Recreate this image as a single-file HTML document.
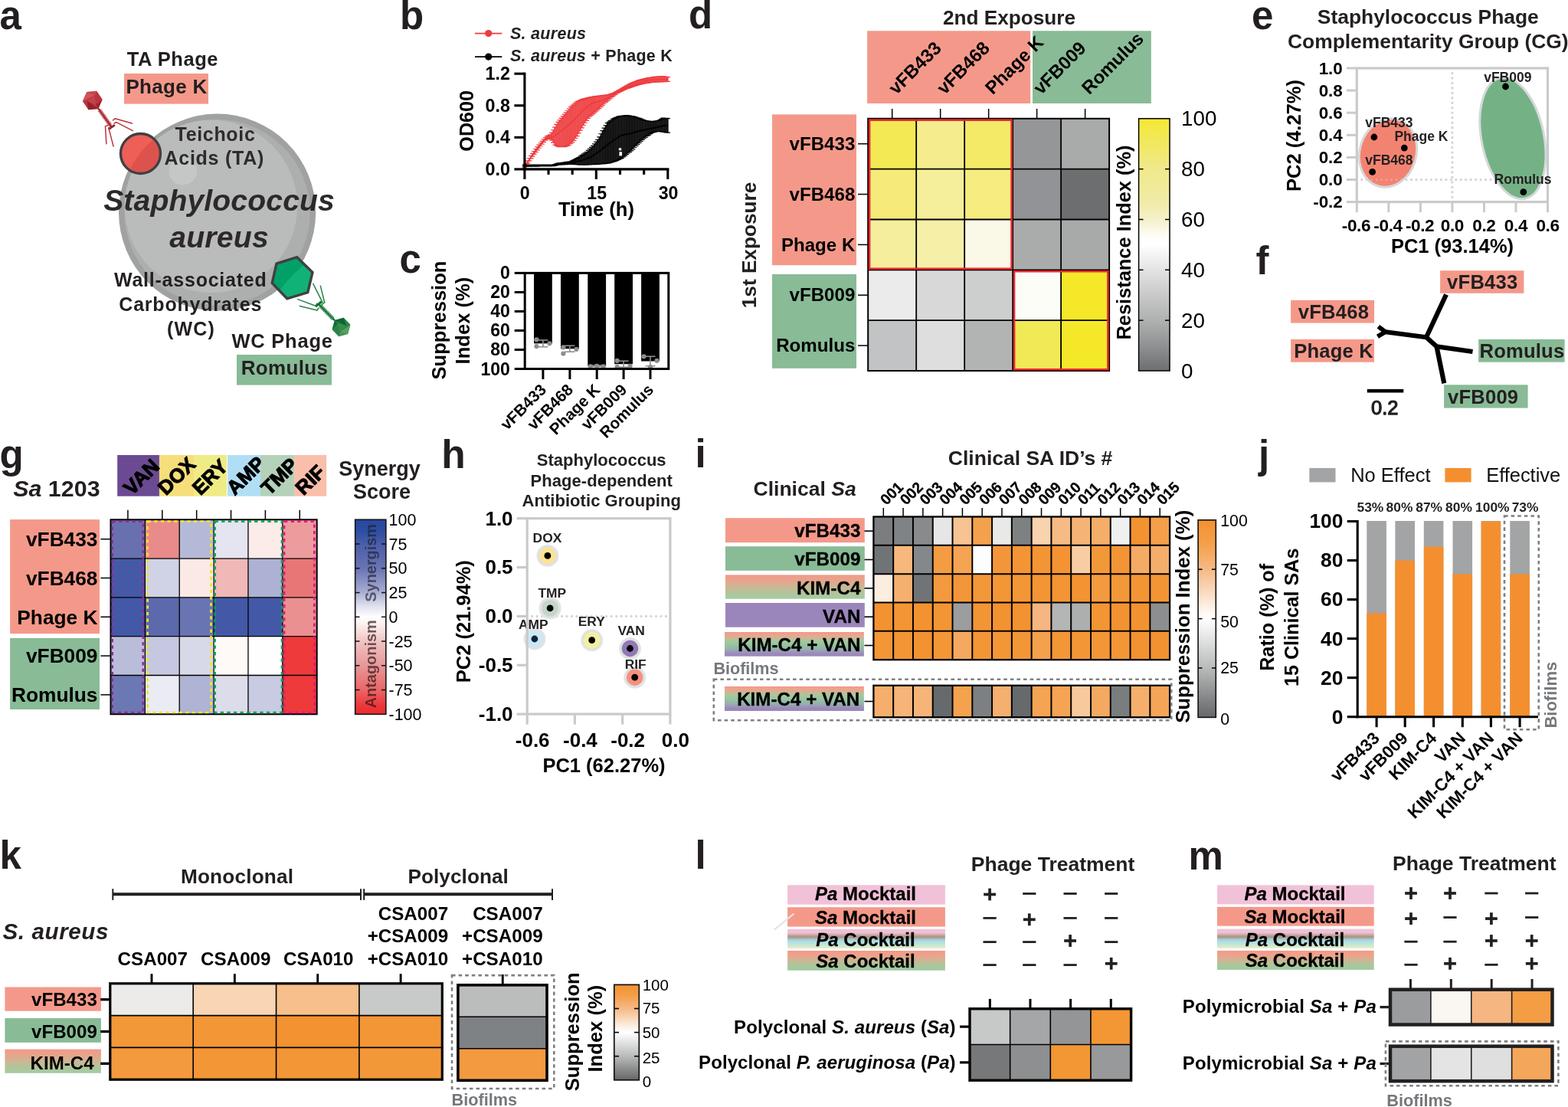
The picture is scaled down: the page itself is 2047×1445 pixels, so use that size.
<!DOCTYPE html>
<html lang="en">
<head>
<meta charset="utf-8">
<title>Staphylococcus aureus phage complementarity figure</title>
<style>
html,body{margin:0;padding:0;background:#fff;}
body{width:2047px;height:1445px;overflow:hidden;}
svg{display:block;font-family:'Liberation Sans', Arial, Helvetica, sans-serif;}
</style>
</head>
<body>
<svg width="2047" height="1445" viewBox="0 0 2047 1445">
<defs>
<clipPath id="redclip"><circle cx="183.5" cy="200.5" r="26"/></clipPath>
<clipPath id="hexclip"><polygon points="387.7,335.7 408.0,355.5 401.8,381.6 374.8,389.8 355.2,369.5 361,344.2"/></clipPath>
<linearGradient id="gd" x1="0" y1="0" x2="0" y2="1"><stop offset="0" stop-color="#f4e932"/><stop offset="0.08" stop-color="#f2e858"/><stop offset="0.2" stop-color="#f0e98c"/><stop offset="0.33" stop-color="#f0eba6"/><stop offset="0.41" stop-color="#f5f1d0"/><stop offset="0.46" stop-color="#fdfcf4"/><stop offset="0.5" stop-color="#ffffff"/><stop offset="0.6" stop-color="#e3e3e3"/><stop offset="0.7" stop-color="#c9c9c9"/><stop offset="0.8" stop-color="#afb0b0"/><stop offset="0.9" stop-color="#909192"/><stop offset="1" stop-color="#6d6e70"/></linearGradient>
<linearGradient id="gg" x1="0" y1="0" x2="0" y2="1"><stop offset="0" stop-color="#26489e"/><stop offset="0.06" stop-color="#2d4ea1"/><stop offset="0.125" stop-color="#4a5ea9"/><stop offset="0.25" stop-color="#6a74b3"/><stop offset="0.375" stop-color="#a9aed2"/><stop offset="0.44" stop-color="#dcdeec"/><stop offset="0.5" stop-color="#ffffff"/><stop offset="0.56" stop-color="#f9e6e4"/><stop offset="0.625" stop-color="#f0c4c2"/><stop offset="0.75" stop-color="#e79899"/><stop offset="0.875" stop-color="#ea6667"/><stop offset="0.95" stop-color="#ec3a3d"/><stop offset="1" stop-color="#ed2a2d"/></linearGradient>
<radialGradient id="halo" cx="0.5" cy="0.5" r="0.5"><stop offset="0" stop-color="#dcdddd"/><stop offset="0.86" stop-color="#e0e1e1"/><stop offset="1" stop-color="#e9eaea"/></radialGradient>
<linearGradient id="g_kim" x1="0" y1="0" x2="0" y2="1"><stop offset="0" stop-color="#f39a88"/><stop offset="0.3" stop-color="#e2a78d"/><stop offset="0.5" stop-color="#cbb794"/><stop offset="0.75" stop-color="#b3c49b"/><stop offset="1" stop-color="#a2cda2"/></linearGradient>
<linearGradient id="g_kv" x1="0" y1="0" x2="0" y2="1"><stop offset="0" stop-color="#f2998a"/><stop offset="0.14" stop-color="#eba68f"/><stop offset="0.36" stop-color="#a9c79d"/><stop offset="0.52" stop-color="#93c7a0"/><stop offset="0.7" stop-color="#98b0ae"/><stop offset="0.88" stop-color="#9c8abb"/><stop offset="1" stop-color="#9a86bb"/></linearGradient>
<linearGradient id="g_or" x1="0" y1="0" x2="0" y2="1"><stop offset="0" stop-color="#f39230"/><stop offset="0.12" stop-color="#f4a04a"/><stop offset="0.25" stop-color="#f6b985"/><stop offset="0.36" stop-color="#f9d9bd"/><stop offset="0.45" stop-color="#fdf3ea"/><stop offset="0.5" stop-color="#ffffff"/><stop offset="0.56" stop-color="#efefef"/><stop offset="0.66" stop-color="#d2d3d3"/><stop offset="0.75" stop-color="#b9baba"/><stop offset="0.88" stop-color="#8d8e8f"/><stop offset="1" stop-color="#666769"/></linearGradient>
<linearGradient id="g_kim2" x1="0" y1="0" x2="0" y2="1"><stop offset="0" stop-color="#f39a88"/><stop offset="0.3" stop-color="#e2a78d"/><stop offset="0.5" stop-color="#cbb794"/><stop offset="0.75" stop-color="#b3c49b"/><stop offset="1" stop-color="#a2cda2"/></linearGradient>
<linearGradient id="g_or2" x1="0" y1="0" x2="0" y2="1"><stop offset="0" stop-color="#f39230"/><stop offset="0.12" stop-color="#f4a04a"/><stop offset="0.25" stop-color="#f6b985"/><stop offset="0.36" stop-color="#f9d9bd"/><stop offset="0.45" stop-color="#fdf3ea"/><stop offset="0.5" stop-color="#ffffff"/><stop offset="0.56" stop-color="#efefef"/><stop offset="0.66" stop-color="#d2d3d3"/><stop offset="0.75" stop-color="#b9baba"/><stop offset="0.88" stop-color="#8d8e8f"/><stop offset="1" stop-color="#666769"/></linearGradient>
<linearGradient id="g_pac" x1="0" y1="0" x2="0" y2="1"><stop offset="0" stop-color="#f1c1d8"/><stop offset="0.2" stop-color="#eec0d4"/><stop offset="0.34" stop-color="#bfa196"/><stop offset="0.42" stop-color="#a89383"/><stop offset="0.52" stop-color="#a9c3c4"/><stop offset="0.62" stop-color="#a9dde6"/><stop offset="0.78" stop-color="#bfe3dc"/><stop offset="0.9" stop-color="#d6e9c8"/><stop offset="1" stop-color="#dcebc6"/></linearGradient>
<linearGradient id="g_sac" x1="0" y1="0" x2="0" y2="1"><stop offset="0" stop-color="#f39a88"/><stop offset="0.25" stop-color="#eea28c"/><stop offset="0.5" stop-color="#cbb794"/><stop offset="0.78" stop-color="#a9c79d"/><stop offset="1" stop-color="#9bcb9f"/></linearGradient>
</defs>
<rect x="0" y="0" width="2047" height="1445" fill="#fff"/>
<text x="-0.50" y="37.60" font-size="51" font-weight="bold" fill="#231f20">a</text>
<text x="225.39" y="86.00" font-size="25.5" font-weight="bold" text-anchor="middle" fill="#231f20" letter-spacing="0.576">TA Phage</text>
<rect x="162.00" y="96.00" width="110.00" height="39.60" fill="#f4998a"/>
<text x="217.56" y="121.50" font-size="26" font-weight="bold" text-anchor="middle" fill="#231f20" letter-spacing="0.329">Phage K</text>
<circle cx="283.60" cy="277.20" r="128.60" fill="#a0a2a2"/>
<circle cx="283.60" cy="277.20" r="121.20" fill="#adafaf"/>
<circle cx="275.40" cy="269.30" r="112.80" fill="#babbbb"/>
<ellipse cx="238.8" cy="223.3" rx="18.4" ry="18.2" fill="#c7c9c8" opacity="0.85"/>
<circle cx="183.50" cy="200.50" r="26.00" fill="#ee5f58"/>
<path d="M166 229 Q180 196 208 176 L216 190 L200 232 Z" fill="#de524d" clip-path="url(#redclip)"/>
<circle cx="183.50" cy="200.50" r="26.00" fill="none" stroke="#414042" stroke-width="3.4"/>
<polygon points="387.7,335.7 408.0,355.5 401.8,381.6 374.8,389.8 355.2,369.5 361,344.2" fill="#10b375"/>
<path d="M363 382 Q380 358 404 340 L388 330 L350 340 L350 372 Z" fill="#00a168" clip-path="url(#hexclip)"/>
<polygon points="387.7,335.7 408.0,355.5 401.8,381.6 374.8,389.8 355.2,369.5 361,344.2" fill="none" stroke="#414042" stroke-width="3.4" stroke-linejoin="miter"/>
<text x="281.04" y="183.50" font-size="25" font-weight="bold" text-anchor="middle" fill="#2e2b2c" letter-spacing="0.677">Teichoic</text>
<text x="279.77" y="214.50" font-size="25" font-weight="bold" text-anchor="middle" fill="#2e2b2c" letter-spacing="0.739">Acids (TA)</text>
<text x="286.04" y="274.50" font-size="39.2" font-weight="bold" text-anchor="middle" fill="#2c292a" font-style="italic" letter-spacing="0.090">Staphylococcus</text>
<text x="286.09" y="322.50" font-size="39.2" font-weight="bold" text-anchor="middle" fill="#2c292a" font-style="italic" letter-spacing="0.190">aureus</text>
<text x="248.78" y="374.30" font-size="25" font-weight="bold" text-anchor="middle" fill="#231f20" letter-spacing="0.769">Wall-associated</text>
<text x="248.70" y="406.20" font-size="25" font-weight="bold" text-anchor="middle" fill="#231f20" letter-spacing="0.796">Carbohydrates</text>
<text x="249.48" y="438.40" font-size="25" font-weight="bold" text-anchor="middle" fill="#231f20" letter-spacing="1.166">(WC)</text>
<text x="368.59" y="454.30" font-size="25.5" font-weight="bold" text-anchor="middle" fill="#231f20" letter-spacing="0.786">WC Phage</text>
<rect x="309.00" y="463.00" width="124.00" height="39.60" fill="#88bb96"/>
<text x="371.46" y="488.50" font-size="26" font-weight="bold" text-anchor="middle" fill="#231f20" letter-spacing="0.329">Romulus</text>
<polygon points="128.3,142.0 115.4,143.3 107.9,132.3 113.3,120.0 126.2,118.7 133.7,129.7" fill="#b9353f"/>
<polygon points="128.3,142.0 115.4,143.3 113.7,131.7" fill="#93212c"/>
<polygon points="133.7,129.7 128.3,142.0 125.0,136.8" fill="#93212c" opacity="0.8"/>
<polygon points="107.9,132.3 113.3,120.0 123.8,124.5" fill="#cf545c"/>
<polygon points="113.3,120.0 126.2,118.7 123.8,124.5" fill="#cf545c" opacity="0.6"/>
<polygon points="113.7,131.7 123.8,124.5 125.0,136.8" fill="#c2434c"/>
<line x1="128.35" y1="141.58" x2="145.77" y2="166.01" stroke="#93212c" stroke-width="2.4"/>
<line x1="130.09" y1="144.03" x2="144.03" y2="163.56" stroke="#b9353f" stroke-width="5.2" stroke-dasharray="1.3 0.8"/>
<line x1="149.84" y1="163.10" x2="141.70" y2="168.91" stroke="#93212c" stroke-width="2.6"/>
<line x1="147.50" y1="157.00" x2="150.10" y2="154.70" stroke="#b9353f" stroke-width="1.5" stroke-linecap="round"/>
<line x1="150.10" y1="154.70" x2="172.40" y2="161.00" stroke="#b9353f" stroke-width="1.5" stroke-linecap="round"/>
<line x1="149.00" y1="161.00" x2="152.00" y2="159.60" stroke="#b9353f" stroke-width="1.5" stroke-linecap="round"/>
<line x1="152.00" y1="159.60" x2="173.30" y2="170.70" stroke="#b9353f" stroke-width="1.5" stroke-linecap="round"/>
<line x1="141.00" y1="163.50" x2="137.50" y2="164.90" stroke="#b9353f" stroke-width="1.5" stroke-linecap="round"/>
<line x1="137.50" y1="164.90" x2="138.90" y2="187.70" stroke="#b9353f" stroke-width="1.5" stroke-linecap="round"/>
<line x1="144.00" y1="166.00" x2="141.80" y2="166.90" stroke="#b9353f" stroke-width="1.5" stroke-linecap="round"/>
<line x1="141.80" y1="166.90" x2="148.10" y2="191.10" stroke="#b9353f" stroke-width="1.5" stroke-linecap="round"/>
<polygon points="436.9,417.9 448.8,414.7 457.4,423.8 454.1,436.1 442.2,439.3 433.6,430.2" fill="#2b8346"/>
<polygon points="436.9,417.9 448.8,414.7 452.0,425.3" fill="#0c6631"/>
<polygon points="433.6,430.2 436.9,417.9 440.8,422.2" fill="#0c6631" opacity="0.8"/>
<polygon points="457.4,423.8 454.1,436.1 443.7,433.5" fill="#57a25f"/>
<polygon points="454.1,436.1 442.2,439.3 443.7,433.5" fill="#57a25f" opacity="0.6"/>
<polygon points="452.0,425.3 443.7,433.5 440.8,422.2" fill="#3a8e4b"/>
<line x1="436.88" y1="418.23" x2="415.85" y2="396.83" stroke="#0c6631" stroke-width="2.4"/>
<line x1="434.78" y1="416.09" x2="417.95" y2="398.97" stroke="#2b8346" stroke-width="5.2" stroke-dasharray="1.3 0.8"/>
<line x1="412.29" y1="400.33" x2="419.42" y2="393.32" stroke="#0c6631" stroke-width="2.6"/>
<line x1="417.00" y1="397.00" x2="421.00" y2="394.70" stroke="#2b8346" stroke-width="1.5" stroke-linecap="round"/>
<line x1="421.00" y1="394.70" x2="408.80" y2="370.40" stroke="#2b8346" stroke-width="1.5" stroke-linecap="round"/>
<line x1="420.00" y1="398.00" x2="423.70" y2="394.70" stroke="#2b8346" stroke-width="1.5" stroke-linecap="round"/>
<line x1="423.70" y1="394.70" x2="418.30" y2="373.10" stroke="#2b8346" stroke-width="1.5" stroke-linecap="round"/>
<line x1="414.00" y1="396.00" x2="412.00" y2="399.20" stroke="#2b8346" stroke-width="1.5" stroke-linecap="round"/>
<line x1="412.00" y1="399.20" x2="388.60" y2="390.60" stroke="#2b8346" stroke-width="1.5" stroke-linecap="round"/>
<line x1="416.00" y1="402.00" x2="413.80" y2="405.00" stroke="#2b8346" stroke-width="1.5" stroke-linecap="round"/>
<line x1="413.80" y1="405.00" x2="391.30" y2="399.60" stroke="#2b8346" stroke-width="1.5" stroke-linecap="round"/>
<text x="522.00" y="38.30" font-size="51" font-weight="bold" fill="#231f20">b</text>
<line x1="620.00" y1="43.60" x2="655.30" y2="43.60" stroke="#ee3b3e" stroke-width="1.6"/>
<circle cx="637.70" cy="43.60" r="4.60" fill="#ee3b3e"/>
<text x="666.00" y="50.60" font-size="21.5" font-weight="bold" fill="#231f20" font-style="italic" letter-spacing="0.276">S. aureus</text>
<line x1="620.00" y1="74.10" x2="655.30" y2="74.10" stroke="#000" stroke-width="1.6"/>
<circle cx="637.70" cy="74.10" r="4.60" fill="#000"/>
<text x="666.00" y="80.10" font-size="21.5" font-weight="bold" fill="#231f20" letter-spacing="0.249"><tspan font-style="italic">S. aureus</tspan> + Phage K</text>
<polygon points="684.90,216.74 686.98,213.40 689.05,210.06 691.13,206.72 693.21,203.38 695.28,200.42 697.36,197.55 699.44,194.69 701.51,191.82 703.59,189.16 705.67,186.74 707.74,184.33 709.82,181.92 711.90,179.50 713.97,177.86 716.05,177.00 718.13,175.96 720.20,173.36 722.28,169.75 724.36,166.04 726.43,162.32 728.51,159.34 730.59,156.85 732.66,154.35 734.74,151.86 736.82,149.37 738.89,146.95 740.97,144.52 743.05,142.10 745.12,139.67 747.20,137.87 749.28,136.14 751.35,134.41 753.43,132.67 755.51,131.75 757.58,130.83 759.66,129.90 761.74,129.14 763.81,128.62 765.89,128.10 767.97,127.58 770.04,127.06 772.12,126.54 774.20,126.24 776.27,125.93 778.35,125.62 780.43,125.31 782.50,125.00 784.58,124.75 786.66,124.54 788.73,124.33 790.81,124.12 792.89,123.91 794.96,123.60 797.04,122.91 799.12,122.21 801.19,121.52 803.27,120.42 805.35,119.27 807.42,118.12 809.50,116.98 811.58,115.82 813.65,114.62 815.73,113.42 817.81,112.21 819.88,111.01 821.96,109.81 824.04,108.75 826.11,107.93 828.19,107.10 830.27,106.27 832.34,105.44 834.42,104.62 836.50,104.10 838.57,103.58 840.65,103.06 842.73,102.54 844.80,102.02 846.88,101.63 848.96,101.32 851.03,101.01 853.11,100.70 855.19,100.40 857.26,100.11 859.34,99.94 861.42,99.77 863.49,99.59 865.57,99.72 867.65,100.03 869.72,100.35 871.80,100.67 871.80,106.28 869.72,106.42 867.65,106.56 865.57,106.70 863.49,106.83 861.42,106.95 859.34,107.05 857.26,107.14 855.19,107.24 853.11,107.34 851.03,107.45 848.96,107.76 846.88,108.07 844.80,108.38 842.73,108.69 840.65,108.99 838.57,109.45 836.50,109.97 834.42,110.49 832.34,111.01 830.27,111.53 828.19,112.11 826.11,112.84 824.04,113.57 821.96,114.30 819.88,115.04 817.81,115.77 815.73,116.73 813.65,117.71 811.58,118.70 809.50,119.68 807.42,120.66 805.35,121.76 803.27,123.32 801.19,124.88 799.12,126.44 797.04,128.10 794.96,129.83 792.89,131.57 790.81,133.30 788.73,135.25 786.66,137.30 784.58,139.34 782.50,141.32 780.43,143.20 778.35,145.08 776.27,146.95 774.20,148.69 772.12,150.39 770.04,152.09 767.97,154.40 765.89,157.33 763.81,160.25 761.74,163.48 759.66,166.79 757.58,170.15 755.51,173.91 753.43,177.67 751.35,180.49 749.28,183.30 747.20,185.53 745.12,187.38 743.05,189.23 740.97,190.10 738.89,190.86 736.82,191.62 734.74,191.70 732.66,191.70 730.59,191.70 728.51,191.08 726.43,190.04 724.36,189.00 722.28,186.09 720.20,183.08 718.13,181.09 716.05,181.28 713.97,181.71 711.90,183.19 709.82,185.71 707.74,188.23 705.67,190.75 703.59,193.27 701.51,195.91 699.44,198.66 697.36,201.41 695.28,204.15 693.21,206.95 691.13,209.91 689.05,212.88 686.98,215.85 684.90,218.82" fill="#ee3b3e" opacity="0.62"/>
<path d="M684.90 216.74V218.82M686.98 213.40V215.85M689.05 210.06V212.88M691.13 206.72V209.91M693.21 203.38V206.95M695.28 200.42V204.15M697.36 197.55V201.41M699.44 194.69V198.66M701.51 191.82V195.91M703.59 189.16V193.27M705.67 186.74V190.75M707.74 184.33V188.23M709.82 181.92V185.71M711.90 179.50V183.19M713.97 177.86V181.71M716.05 177.00V181.28M718.13 175.96V181.09M720.20 173.36V183.08M722.28 169.75V186.09M724.36 166.04V189.00M726.43 162.32V190.04M728.51 159.34V191.08M730.59 156.85V191.70M732.66 154.35V191.70M734.74 151.86V191.70M736.82 149.37V191.62M738.89 146.95V190.86M740.97 144.52V190.10M743.05 142.10V189.23M745.12 139.67V187.38M747.20 137.87V185.53M749.28 136.14V183.30M751.35 134.41V180.49M753.43 132.67V177.67M755.51 131.75V173.91M757.58 130.83V170.15M759.66 129.90V166.79M761.74 129.14V163.48M763.81 128.62V160.25M765.89 128.10V157.33M767.97 127.58V154.40M770.04 127.06V152.09M772.12 126.54V150.39M774.20 126.24V148.69M776.27 125.93V146.95M778.35 125.62V145.08M780.43 125.31V143.20M782.50 125.00V141.32M784.58 124.75V139.34M786.66 124.54V137.30M788.73 124.33V135.25M790.81 124.12V133.30M792.89 123.91V131.57M794.96 123.60V129.83M797.04 122.91V128.10M799.12 122.21V126.44M801.19 121.52V124.88M803.27 120.42V123.32M805.35 119.27V121.76M807.42 118.12V120.66M809.50 116.98V119.68M811.58 115.82V118.70M813.65 114.62V117.71M815.73 113.42V116.73M817.81 112.21V115.77M819.88 111.01V115.04M821.96 109.81V114.30M824.04 108.75V113.57M826.11 107.93V112.84M828.19 107.10V112.11M830.27 106.27V111.53M832.34 105.44V111.01M834.42 104.62V110.49M836.50 104.10V109.97M838.57 103.58V109.45M840.65 103.06V108.99M842.73 102.54V108.69M844.80 102.02V108.38M846.88 101.63V108.07M848.96 101.32V107.76M851.03 101.01V107.45M853.11 100.70V107.34M855.19 100.40V107.24M857.26 100.11V107.14M859.34 99.94V107.05M861.42 99.77V106.95M863.49 99.59V106.83M865.57 99.72V106.70M867.65 100.03V106.56M869.72 100.35V106.42M871.80 100.67V106.28" fill="none" stroke="#ee3b3e" stroke-width="1.55"/>
<path d="M681.70 216.74h6.4M681.70 218.82h6.4M683.78 213.40h6.4M683.78 215.85h6.4M685.85 210.06h6.4M685.85 212.88h6.4M687.93 206.72h6.4M687.93 209.91h6.4M690.01 203.38h6.4M690.01 206.95h6.4M692.08 200.42h6.4M692.08 204.15h6.4M694.16 197.55h6.4M694.16 201.41h6.4M696.24 194.69h6.4M696.24 198.66h6.4M698.31 191.82h6.4M698.31 195.91h6.4M700.39 189.16h6.4M700.39 193.27h6.4M702.47 186.74h6.4M702.47 190.75h6.4M704.54 184.33h6.4M704.54 188.23h6.4M706.62 181.92h6.4M706.62 185.71h6.4M708.70 179.50h6.4M708.70 183.19h6.4M710.77 177.86h6.4M710.77 181.71h6.4M712.85 177.00h6.4M712.85 181.28h6.4M714.93 175.96h6.4M714.93 181.09h6.4M717.00 173.36h6.4M717.00 183.08h6.4M719.08 169.75h6.4M719.08 186.09h6.4M721.16 166.04h6.4M721.16 189.00h6.4M723.23 162.32h6.4M723.23 190.04h6.4M725.31 159.34h6.4M725.31 191.08h6.4M727.39 156.85h6.4M727.39 191.70h6.4M729.46 154.35h6.4M729.46 191.70h6.4M731.54 151.86h6.4M731.54 191.70h6.4M733.62 149.37h6.4M733.62 191.62h6.4M735.69 146.95h6.4M735.69 190.86h6.4M737.77 144.52h6.4M737.77 190.10h6.4M739.85 142.10h6.4M739.85 189.23h6.4M741.92 139.67h6.4M741.92 187.38h6.4M744.00 137.87h6.4M744.00 185.53h6.4M746.08 136.14h6.4M746.08 183.30h6.4M748.15 134.41h6.4M748.15 180.49h6.4M750.23 132.67h6.4M750.23 177.67h6.4M752.31 131.75h6.4M752.31 173.91h6.4M754.38 130.83h6.4M754.38 170.15h6.4M756.46 129.90h6.4M756.46 166.79h6.4M758.54 129.14h6.4M758.54 163.48h6.4M760.61 128.62h6.4M760.61 160.25h6.4M762.69 128.10h6.4M762.69 157.33h6.4M764.77 127.58h6.4M764.77 154.40h6.4M766.84 127.06h6.4M766.84 152.09h6.4M768.92 126.54h6.4M768.92 150.39h6.4M771.00 126.24h6.4M771.00 148.69h6.4M773.07 125.93h6.4M773.07 146.95h6.4M775.15 125.62h6.4M775.15 145.08h6.4M777.23 125.31h6.4M777.23 143.20h6.4M779.30 125.00h6.4M779.30 141.32h6.4M781.38 124.75h6.4M781.38 139.34h6.4M783.46 124.54h6.4M783.46 137.30h6.4M785.53 124.33h6.4M785.53 135.25h6.4M787.61 124.12h6.4M787.61 133.30h6.4M789.69 123.91h6.4M789.69 131.57h6.4M791.76 123.60h6.4M791.76 129.83h6.4M793.84 122.91h6.4M793.84 128.10h6.4M795.92 122.21h6.4M795.92 126.44h6.4M797.99 121.52h6.4M797.99 124.88h6.4M800.07 120.42h6.4M800.07 123.32h6.4M802.15 119.27h6.4M802.15 121.76h6.4M804.22 118.12h6.4M804.22 120.66h6.4M806.30 116.98h6.4M806.30 119.68h6.4M808.38 115.82h6.4M808.38 118.70h6.4M810.45 114.62h6.4M810.45 117.71h6.4M812.53 113.42h6.4M812.53 116.73h6.4M814.61 112.21h6.4M814.61 115.77h6.4M816.68 111.01h6.4M816.68 115.04h6.4M818.76 109.81h6.4M818.76 114.30h6.4M820.84 108.75h6.4M820.84 113.57h6.4M822.91 107.93h6.4M822.91 112.84h6.4M824.99 107.10h6.4M824.99 112.11h6.4M827.07 106.27h6.4M827.07 111.53h6.4M829.14 105.44h6.4M829.14 111.01h6.4M831.22 104.62h6.4M831.22 110.49h6.4M833.30 104.10h6.4M833.30 109.97h6.4M835.37 103.58h6.4M835.37 109.45h6.4M837.45 103.06h6.4M837.45 108.99h6.4M839.53 102.54h6.4M839.53 108.69h6.4M841.60 102.02h6.4M841.60 108.38h6.4M843.68 101.63h6.4M843.68 108.07h6.4M845.76 101.32h6.4M845.76 107.76h6.4M847.83 101.01h6.4M847.83 107.45h6.4M849.91 100.70h6.4M849.91 107.34h6.4M851.99 100.40h6.4M851.99 107.24h6.4M854.06 100.11h6.4M854.06 107.14h6.4M856.14 99.94h6.4M856.14 107.05h6.4M858.22 99.77h6.4M858.22 106.95h6.4M860.29 99.59h6.4M860.29 106.83h6.4M862.37 99.72h6.4M862.37 106.70h6.4M864.45 100.03h6.4M864.45 106.56h6.4M866.52 100.35h6.4M866.52 106.42h6.4M868.60 100.67h6.4M868.60 106.28h6.4" fill="none" stroke="#ee3b3e" stroke-width="1.2"/>
<path d="M684.90 217.78L686.98 214.64L689.05 211.50L691.13 208.36L693.21 205.21L695.28 202.31L697.36 199.47L699.44 196.63L701.51 193.78L703.59 191.14L705.67 188.75L707.74 186.36L709.82 183.96L711.90 181.57L713.97 180.16L716.05 179.72L718.13 179.29L720.20 178.86L722.28 178.42L724.36 177.19L726.43 175.61L728.51 174.03L730.59 172.45L732.66 170.87L734.74 169.29L736.82 167.71L738.89 166.08L740.97 164.23L743.05 162.38L745.12 160.54L747.20 158.69L749.28 156.84L751.35 154.62L753.43 152.31L755.51 150.01L757.58 147.70L759.66 145.39L761.74 143.33L763.81 141.66L765.89 139.98L767.97 138.31L770.04 136.64L772.12 134.96L774.20 134.39L776.27 133.82L778.35 133.25L780.43 132.67L782.50 132.10L784.58 131.53L786.66 130.56L788.73 129.59L790.81 128.62L792.89 127.65L794.96 126.68L797.04 125.71L799.12 124.74L801.19 123.73L803.27 122.67L805.35 121.61L807.42 120.55L809.50 119.49L811.58 118.43L813.65 117.34L815.73 116.24L817.81 115.15L819.88 114.06L821.96 112.96L824.04 112.00L826.11 111.23L828.19 110.46L830.27 109.69L832.34 108.92L834.42 108.15L836.50 107.54L838.57 106.94L840.65 106.33L842.73 105.73L844.80 105.12L846.88 104.51L848.96 104.34L851.03 104.17L853.11 103.99L855.19 103.82L857.26 103.65L859.34 103.47L861.42 103.47L863.49 103.47L865.57 103.47L867.65 103.47L869.72 103.47L871.80 103.47" fill="none" stroke="#ee3b3e" stroke-width="1.6"/>
<polygon points="684.90,215.18 686.98,215.18 689.05,215.18 691.13,215.18 693.21,215.18 695.28,215.18 697.36,215.18 699.44,215.18 701.51,215.18 703.59,215.18 705.67,215.18 707.74,215.18 709.82,215.18 711.90,215.18 713.97,215.18 716.05,215.18 718.13,215.18 720.20,215.18 722.28,215.18 724.36,214.49 726.43,213.80 728.51,213.11 730.59,212.82 732.66,212.54 734.74,212.26 736.82,211.98 738.89,211.70 740.97,211.41 743.05,211.13 745.12,210.85 747.20,209.87 749.28,208.80 751.35,207.74 753.43,206.68 755.51,205.58 757.58,204.12 759.66,202.66 761.74,201.19 763.81,199.73 765.89,198.27 767.97,196.43 770.04,194.43 772.12,192.43 774.20,190.44 776.27,187.85 778.35,185.11 780.43,182.37 782.50,178.92 784.58,174.76 786.66,170.60 788.73,167.13 790.81,163.82 792.89,160.68 794.96,159.12 797.04,157.56 799.12,156.00 801.19,154.79 803.27,153.91 805.35,153.03 807.42,152.15 809.50,151.64 811.58,151.39 813.65,151.13 815.73,150.88 817.81,150.68 819.88,150.95 821.96,151.22 824.04,151.50 826.11,151.77 828.19,152.40 830.27,153.06 832.34,153.73 834.42,154.40 836.50,155.20 838.57,156.05 840.65,156.90 842.73,157.51 844.80,157.76 846.88,158.02 848.96,158.27 851.03,158.52 853.11,158.31 855.19,158.03 857.26,157.76 859.34,157.49 861.42,156.54 863.49,155.31 865.57,154.08 867.65,154.25 869.72,154.43 871.80,154.60 871.80,173.20 869.72,172.82 867.65,172.44 865.57,172.06 863.49,171.89 861.42,171.71 859.34,171.54 857.26,171.65 855.19,172.19 853.11,172.72 851.03,173.34 848.96,174.69 846.88,176.05 844.80,177.40 842.73,179.03 840.65,180.73 838.57,182.43 836.50,184.31 834.42,186.35 832.34,188.40 830.27,190.45 828.19,192.49 826.11,194.54 824.04,196.59 821.96,198.32 819.88,200.02 817.81,201.72 815.73,203.30 813.65,204.79 811.58,206.28 809.50,207.48 807.42,208.48 805.35,209.49 803.27,210.38 801.19,211.01 799.12,211.63 797.04,212.25 794.96,212.88 792.89,213.17 790.81,213.38 788.73,213.60 786.66,213.81 784.58,214.02 782.50,214.19 780.43,214.31 778.35,214.42 776.27,214.54 774.20,214.65 772.12,214.77 770.04,214.87 767.97,214.96 765.89,215.06 763.81,215.15 761.74,215.25 759.66,215.20 757.58,215.04 755.51,214.89 753.43,214.74 751.35,214.59 749.28,214.43 747.20,214.28 745.12,214.16 743.05,214.29 740.97,214.41 738.89,214.54 736.82,214.67 734.74,214.80 732.66,214.93 730.59,215.06 728.51,215.18 726.43,215.70 724.36,216.22 722.28,216.74 720.20,216.77 718.13,216.80 716.05,216.83 713.97,216.86 711.90,216.89 709.82,216.92 707.74,216.95 705.67,216.97 703.59,217.00 701.51,217.03 699.44,217.06 697.36,217.09 695.28,217.12 693.21,217.15 691.13,217.18 689.05,217.21 686.98,217.23 684.90,217.26" fill="#000" opacity="0.62"/>
<path d="M684.90 215.18V217.26M686.98 215.18V217.23M689.05 215.18V217.21M691.13 215.18V217.18M693.21 215.18V217.15M695.28 215.18V217.12M697.36 215.18V217.09M699.44 215.18V217.06M701.51 215.18V217.03M703.59 215.18V217.00M705.67 215.18V216.97M707.74 215.18V216.95M709.82 215.18V216.92M711.90 215.18V216.89M713.97 215.18V216.86M716.05 215.18V216.83M718.13 215.18V216.80M720.20 215.18V216.77M722.28 215.18V216.74M724.36 214.49V216.22M726.43 213.80V215.70M728.51 213.11V215.18M730.59 212.82V215.06M732.66 212.54V214.93M734.74 212.26V214.80M736.82 211.98V214.67M738.89 211.70V214.54M740.97 211.41V214.41M743.05 211.13V214.29M745.12 210.85V214.16M747.20 209.87V214.28M749.28 208.80V214.43M751.35 207.74V214.59M753.43 206.68V214.74M755.51 205.58V214.89M757.58 204.12V215.04M759.66 202.66V215.20M761.74 201.19V215.25M763.81 199.73V215.15M765.89 198.27V215.06M767.97 196.43V214.96M770.04 194.43V214.87M772.12 192.43V214.77M774.20 190.44V214.65M776.27 187.85V214.54M778.35 185.11V214.42M780.43 182.37V214.31M782.50 178.92V214.19M784.58 174.76V214.02M786.66 170.60V213.81M788.73 167.13V213.60M790.81 163.82V213.38M792.89 160.68V213.17M794.96 159.12V212.88M797.04 157.56V212.25M799.12 156.00V211.63M801.19 154.79V211.01M803.27 153.91V210.38M805.35 153.03V209.49M807.42 152.15V208.48M809.50 151.64V207.48M811.58 151.39V206.28M813.65 151.13V204.79M815.73 150.88V203.30M817.81 150.68V201.72M819.88 150.95V200.02M821.96 151.22V198.32M824.04 151.50V196.59M826.11 151.77V194.54M828.19 152.40V192.49M830.27 153.06V190.45M832.34 153.73V188.40M834.42 154.40V186.35M836.50 155.20V184.31M838.57 156.05V182.43M840.65 156.90V180.73M842.73 157.51V179.03M844.80 157.76V177.40M846.88 158.02V176.05M848.96 158.27V174.69M851.03 158.52V173.34M853.11 158.31V172.72M855.19 158.03V172.19M857.26 157.76V171.65M859.34 157.49V171.54M861.42 156.54V171.71M863.49 155.31V171.89M865.57 154.08V172.06M867.65 154.25V172.44M869.72 154.43V172.82M871.80 154.60V173.20" fill="none" stroke="#000" stroke-width="1.6"/>
<path d="M681.70 215.18h6.4M681.70 217.26h6.4M683.78 215.18h6.4M683.78 217.23h6.4M685.85 215.18h6.4M685.85 217.21h6.4M687.93 215.18h6.4M687.93 217.18h6.4M690.01 215.18h6.4M690.01 217.15h6.4M692.08 215.18h6.4M692.08 217.12h6.4M694.16 215.18h6.4M694.16 217.09h6.4M696.24 215.18h6.4M696.24 217.06h6.4M698.31 215.18h6.4M698.31 217.03h6.4M700.39 215.18h6.4M700.39 217.00h6.4M702.47 215.18h6.4M702.47 216.97h6.4M704.54 215.18h6.4M704.54 216.95h6.4M706.62 215.18h6.4M706.62 216.92h6.4M708.70 215.18h6.4M708.70 216.89h6.4M710.77 215.18h6.4M710.77 216.86h6.4M712.85 215.18h6.4M712.85 216.83h6.4M714.93 215.18h6.4M714.93 216.80h6.4M717.00 215.18h6.4M717.00 216.77h6.4M719.08 215.18h6.4M719.08 216.74h6.4M721.16 214.49h6.4M721.16 216.22h6.4M723.23 213.80h6.4M723.23 215.70h6.4M725.31 213.11h6.4M725.31 215.18h6.4M727.39 212.82h6.4M727.39 215.06h6.4M729.46 212.54h6.4M729.46 214.93h6.4M731.54 212.26h6.4M731.54 214.80h6.4M733.62 211.98h6.4M733.62 214.67h6.4M735.69 211.70h6.4M735.69 214.54h6.4M737.77 211.41h6.4M737.77 214.41h6.4M739.85 211.13h6.4M739.85 214.29h6.4M741.92 210.85h6.4M741.92 214.16h6.4M744.00 209.87h6.4M744.00 214.28h6.4M746.08 208.80h6.4M746.08 214.43h6.4M748.15 207.74h6.4M748.15 214.59h6.4M750.23 206.68h6.4M750.23 214.74h6.4M752.31 205.58h6.4M752.31 214.89h6.4M754.38 204.12h6.4M754.38 215.04h6.4M756.46 202.66h6.4M756.46 215.20h6.4M758.54 201.19h6.4M758.54 215.25h6.4M760.61 199.73h6.4M760.61 215.15h6.4M762.69 198.27h6.4M762.69 215.06h6.4M764.77 196.43h6.4M764.77 214.96h6.4M766.84 194.43h6.4M766.84 214.87h6.4M768.92 192.43h6.4M768.92 214.77h6.4M771.00 190.44h6.4M771.00 214.65h6.4M773.07 187.85h6.4M773.07 214.54h6.4M775.15 185.11h6.4M775.15 214.42h6.4M777.23 182.37h6.4M777.23 214.31h6.4M779.30 178.92h6.4M779.30 214.19h6.4M781.38 174.76h6.4M781.38 214.02h6.4M783.46 170.60h6.4M783.46 213.81h6.4M785.53 167.13h6.4M785.53 213.60h6.4M787.61 163.82h6.4M787.61 213.38h6.4M789.69 160.68h6.4M789.69 213.17h6.4M791.76 159.12h6.4M791.76 212.88h6.4M793.84 157.56h6.4M793.84 212.25h6.4M795.92 156.00h6.4M795.92 211.63h6.4M797.99 154.79h6.4M797.99 211.01h6.4M800.07 153.91h6.4M800.07 210.38h6.4M802.15 153.03h6.4M802.15 209.49h6.4M804.22 152.15h6.4M804.22 208.48h6.4M806.30 151.64h6.4M806.30 207.48h6.4M808.38 151.39h6.4M808.38 206.28h6.4M810.45 151.13h6.4M810.45 204.79h6.4M812.53 150.88h6.4M812.53 203.30h6.4M814.61 150.68h6.4M814.61 201.72h6.4M816.68 150.95h6.4M816.68 200.02h6.4M818.76 151.22h6.4M818.76 198.32h6.4M820.84 151.50h6.4M820.84 196.59h6.4M822.91 151.77h6.4M822.91 194.54h6.4M824.99 152.40h6.4M824.99 192.49h6.4M827.07 153.06h6.4M827.07 190.45h6.4M829.14 153.73h6.4M829.14 188.40h6.4M831.22 154.40h6.4M831.22 186.35h6.4M833.30 155.20h6.4M833.30 184.31h6.4M835.37 156.05h6.4M835.37 182.43h6.4M837.45 156.90h6.4M837.45 180.73h6.4M839.53 157.51h6.4M839.53 179.03h6.4M841.60 157.76h6.4M841.60 177.40h6.4M843.68 158.02h6.4M843.68 176.05h6.4M845.76 158.27h6.4M845.76 174.69h6.4M847.83 158.52h6.4M847.83 173.34h6.4M849.91 158.31h6.4M849.91 172.72h6.4M851.99 158.03h6.4M851.99 172.19h6.4M854.06 157.76h6.4M854.06 171.65h6.4M856.14 157.49h6.4M856.14 171.54h6.4M858.22 156.54h6.4M858.22 171.71h6.4M860.29 155.31h6.4M860.29 171.89h6.4M862.37 154.08h6.4M862.37 172.06h6.4M864.45 154.25h6.4M864.45 172.44h6.4M866.52 154.43h6.4M866.52 172.82h6.4M868.60 154.60h6.4M868.60 173.20h6.4" fill="none" stroke="#000" stroke-width="1.2"/>
<path d="M684.90 216.22L686.98 216.21L689.05 216.20L691.13 216.19L693.21 216.18L695.28 216.17L697.36 216.15L699.44 216.14L701.51 216.13L703.59 216.12L705.67 216.11L707.74 216.10L709.82 216.09L711.90 216.07L713.97 216.06L716.05 216.05L718.13 216.04L720.20 216.03L722.28 216.02L724.36 215.39L726.43 214.77L728.51 214.15L730.59 213.95L732.66 213.76L734.74 213.57L736.82 213.38L738.89 213.18L740.97 212.99L743.05 212.80L745.12 212.61L747.20 212.18L749.28 211.73L751.35 211.28L753.43 210.82L755.51 210.37L757.58 209.92L759.66 209.47L761.74 208.66L763.81 207.84L765.89 207.03L767.97 206.21L770.04 205.40L772.12 204.59L774.20 203.14L776.27 201.70L778.35 200.26L780.43 198.81L782.50 197.37L784.58 195.79L786.66 194.11L788.73 192.44L790.81 190.76L792.89 189.09L794.96 187.46L797.04 186.00L799.12 184.53L801.19 183.07L803.27 181.61L805.35 180.15L807.42 178.87L809.50 177.64L811.58 176.49L813.65 176.09L815.73 175.69L817.81 175.28L819.88 174.88L821.96 174.48L824.04 174.00L826.11 173.38L828.19 172.76L830.27 172.15L832.34 171.53L834.42 170.92L836.50 170.49L838.57 170.07L840.65 169.65L842.73 169.22L844.80 168.80L846.88 168.39L848.96 167.98L851.03 167.58L853.11 167.18L855.19 166.77L857.26 166.34L859.34 165.82L861.42 165.30L863.49 164.78L865.57 164.27L867.65 163.75L869.72 163.69L871.80 163.75" fill="none" stroke="#000" stroke-width="2.0"/>
<rect x="807.80" y="193.20" width="3.40" height="3.20" fill="#fff" opacity="0.9"/>
<rect x="808.40" y="198.20" width="3.60" height="5.20" fill="#fff" opacity="0.95"/>
<line x1="684.90" y1="94.65" x2="684.90" y2="222.45" stroke="#000" stroke-width="3.1"/>
<line x1="683.35" y1="220.90" x2="873.35" y2="220.90" stroke="#000" stroke-width="3.1"/>
<line x1="671.40" y1="220.90" x2="684.90" y2="220.90" stroke="#000" stroke-width="3.1"/>
<text x="665.90" y="228.80" font-size="23.3" font-weight="bold" text-anchor="end">0.0</text>
<line x1="671.40" y1="179.33" x2="684.90" y2="179.33" stroke="#000" stroke-width="3.1"/>
<text x="665.90" y="187.23" font-size="23.3" font-weight="bold" text-anchor="end">0.4</text>
<line x1="671.40" y1="137.77" x2="684.90" y2="137.77" stroke="#000" stroke-width="3.1"/>
<text x="665.90" y="145.67" font-size="23.3" font-weight="bold" text-anchor="end">0.8</text>
<line x1="671.40" y1="96.20" x2="684.90" y2="96.20" stroke="#000" stroke-width="3.1"/>
<text x="665.90" y="104.10" font-size="23.3" font-weight="bold" text-anchor="end">1.2</text>
<line x1="684.90" y1="220.90" x2="684.90" y2="233.90" stroke="#000" stroke-width="3.1"/>
<line x1="716.05" y1="220.90" x2="716.05" y2="227.90" stroke="#000" stroke-width="3.1"/>
<line x1="747.20" y1="220.90" x2="747.20" y2="227.90" stroke="#000" stroke-width="3.1"/>
<line x1="778.35" y1="220.90" x2="778.35" y2="233.90" stroke="#000" stroke-width="3.1"/>
<line x1="809.50" y1="220.90" x2="809.50" y2="227.90" stroke="#000" stroke-width="3.1"/>
<line x1="840.65" y1="220.90" x2="840.65" y2="227.90" stroke="#000" stroke-width="3.1"/>
<line x1="871.80" y1="220.90" x2="871.80" y2="233.90" stroke="#000" stroke-width="3.1"/>
<text x="685.10" y="259.60" font-size="23.2" font-weight="bold" text-anchor="middle">0</text>
<text x="779.15" y="259.60" font-size="23.2" font-weight="bold" text-anchor="middle">15</text>
<text x="872.60" y="259.60" font-size="23.2" font-weight="bold" text-anchor="middle">30</text>
<text x="617.80" y="157.80" font-size="25.2" font-weight="bold" text-anchor="middle" transform="rotate(-90 617.80 157.80)">OD600</text>
<text x="778.50" y="281.60" font-size="25.6" font-weight="bold" text-anchor="middle">Time (h)</text>
<text x="521.50" y="356.00" font-size="51" font-weight="bold" fill="#231f20">c</text>
<rect x="697.00" y="356.40" width="23.80" height="91.95" fill="#000"/>
<line x1="708.90" y1="443.97" x2="708.90" y2="452.73" stroke="#8e8e8e" stroke-width="1.6"/>
<line x1="702.40" y1="443.97" x2="715.40" y2="443.97" stroke="#8e8e8e" stroke-width="1.6"/>
<line x1="702.40" y1="452.73" x2="715.40" y2="452.73" stroke="#8e8e8e" stroke-width="1.6"/>
<circle cx="700.40" cy="443.34" r="3.10" fill="#8e8e8e"/>
<circle cx="717.40" cy="448.35" r="3.10" fill="#8e8e8e"/>
<circle cx="700.40" cy="452.10" r="3.10" fill="#8e8e8e"/>
<rect x="732.00" y="356.40" width="23.80" height="98.83" fill="#000"/>
<line x1="743.90" y1="451.23" x2="743.90" y2="459.23" stroke="#8e8e8e" stroke-width="1.6"/>
<line x1="737.40" y1="451.23" x2="750.40" y2="451.23" stroke="#8e8e8e" stroke-width="1.6"/>
<line x1="737.40" y1="459.23" x2="750.40" y2="459.23" stroke="#8e8e8e" stroke-width="1.6"/>
<circle cx="735.40" cy="453.35" r="3.10" fill="#8e8e8e"/>
<circle cx="752.40" cy="455.85" r="3.10" fill="#8e8e8e"/>
<circle cx="735.40" cy="461.48" r="3.10" fill="#8e8e8e"/>
<rect x="767.30" y="356.40" width="23.80" height="121.35" fill="#000"/>
<line x1="779.20" y1="477.00" x2="779.20" y2="478.50" stroke="#8e8e8e" stroke-width="1.6"/>
<line x1="772.70" y1="477.00" x2="785.70" y2="477.00" stroke="#8e8e8e" stroke-width="1.6"/>
<line x1="772.70" y1="478.50" x2="785.70" y2="478.50" stroke="#8e8e8e" stroke-width="1.6"/>
<circle cx="770.70" cy="478.37" r="3.10" fill="#8e8e8e"/>
<circle cx="779.20" cy="477.75" r="3.10" fill="#8e8e8e"/>
<circle cx="787.70" cy="478.37" r="3.10" fill="#8e8e8e"/>
<rect x="802.20" y="356.40" width="23.80" height="118.85" fill="#000"/>
<line x1="814.10" y1="471.24" x2="814.10" y2="479.25" stroke="#8e8e8e" stroke-width="1.6"/>
<line x1="807.60" y1="471.24" x2="820.60" y2="471.24" stroke="#8e8e8e" stroke-width="1.6"/>
<line x1="807.60" y1="479.25" x2="820.60" y2="479.25" stroke="#8e8e8e" stroke-width="1.6"/>
<circle cx="805.60" cy="470.87" r="3.10" fill="#8e8e8e"/>
<circle cx="822.60" cy="477.75" r="3.10" fill="#8e8e8e"/>
<circle cx="805.60" cy="479.00" r="3.10" fill="#8e8e8e"/>
<rect x="837.10" y="356.40" width="23.80" height="115.09" fill="#000"/>
<line x1="849.00" y1="465.24" x2="849.00" y2="477.75" stroke="#8e8e8e" stroke-width="1.6"/>
<line x1="842.50" y1="465.24" x2="855.50" y2="465.24" stroke="#8e8e8e" stroke-width="1.6"/>
<line x1="842.50" y1="477.75" x2="855.50" y2="477.75" stroke="#8e8e8e" stroke-width="1.6"/>
<circle cx="840.50" cy="465.24" r="3.10" fill="#8e8e8e"/>
<circle cx="857.50" cy="470.87" r="3.10" fill="#8e8e8e"/>
<circle cx="849.00" cy="479.00" r="3.10" fill="#8e8e8e"/>
<rect x="685.20" y="356.40" width="187.60" height="125.10" fill="none" stroke="#000" stroke-width="3"/>
<line x1="671.70" y1="356.40" x2="685.20" y2="356.40" stroke="#000" stroke-width="3"/>
<text x="665.90" y="364.40" font-size="23" font-weight="bold" text-anchor="end">0</text>
<line x1="671.70" y1="381.42" x2="685.20" y2="381.42" stroke="#000" stroke-width="3"/>
<text x="665.90" y="389.42" font-size="23" font-weight="bold" text-anchor="end">20</text>
<line x1="671.70" y1="406.44" x2="685.20" y2="406.44" stroke="#000" stroke-width="3"/>
<text x="665.90" y="414.44" font-size="23" font-weight="bold" text-anchor="end">40</text>
<line x1="671.70" y1="431.46" x2="685.20" y2="431.46" stroke="#000" stroke-width="3"/>
<text x="665.90" y="439.46" font-size="23" font-weight="bold" text-anchor="end">60</text>
<line x1="671.70" y1="456.48" x2="685.20" y2="456.48" stroke="#000" stroke-width="3"/>
<text x="665.90" y="464.48" font-size="23" font-weight="bold" text-anchor="end">80</text>
<line x1="671.70" y1="481.50" x2="685.20" y2="481.50" stroke="#000" stroke-width="3"/>
<text x="665.90" y="489.50" font-size="23" font-weight="bold" text-anchor="end">100</text>
<line x1="708.90" y1="481.50" x2="708.90" y2="495.00" stroke="#000" stroke-width="3"/>
<text x="714.40" y="510.00" font-size="20.8" font-weight="bold" text-anchor="end" transform="rotate(-45 714.40 510.00)">vFB433</text>
<line x1="743.90" y1="481.50" x2="743.90" y2="495.00" stroke="#000" stroke-width="3"/>
<text x="749.40" y="510.00" font-size="20.8" font-weight="bold" text-anchor="end" transform="rotate(-45 749.40 510.00)">vFB468</text>
<line x1="779.20" y1="481.50" x2="779.20" y2="495.00" stroke="#000" stroke-width="3"/>
<text x="784.70" y="510.00" font-size="20.8" font-weight="bold" text-anchor="end" transform="rotate(-45 784.70 510.00)">Phage K</text>
<line x1="814.10" y1="481.50" x2="814.10" y2="495.00" stroke="#000" stroke-width="3"/>
<text x="819.60" y="510.00" font-size="20.8" font-weight="bold" text-anchor="end" transform="rotate(-45 819.60 510.00)">vFB009</text>
<line x1="849.00" y1="481.50" x2="849.00" y2="495.00" stroke="#000" stroke-width="3"/>
<text x="854.50" y="510.00" font-size="20.8" font-weight="bold" text-anchor="end" transform="rotate(-45 854.50 510.00)">Romulus</text>
<text x="581.80" y="418.00" font-size="25.6" font-weight="bold" text-anchor="middle" transform="rotate(-90 581.80 418.00)">Suppression</text>
<text x="613.00" y="418.50" font-size="25.6" font-weight="bold" text-anchor="middle" transform="rotate(-90 613.00 418.50)">Index (%)</text>
<text x="899.00" y="36.50" font-size="51" font-weight="bold" fill="#231f20">d</text>
<text x="1317.50" y="31.70" font-size="26.2" font-weight="bold" text-anchor="middle" fill="#231f20">2nd Exposure</text>
<rect x="1132.10" y="40.30" width="213.10" height="94.70" fill="#f4998a"/>
<rect x="1348.00" y="40.30" width="154.80" height="94.70" fill="#88bb96"/>
<rect x="1008.00" y="149.40" width="110.00" height="196.80" fill="#f4998a"/>
<rect x="1008.00" y="358.00" width="110.00" height="122.80" fill="#88bb96"/>
<rect x="1133.20" y="154.80" width="63.28" height="66.14" fill="#f3e955"/>
<rect x="1196.18" y="154.80" width="63.28" height="66.14" fill="#f5ec8d"/>
<rect x="1259.16" y="154.80" width="63.28" height="66.14" fill="#f4ea68"/>
<rect x="1322.14" y="154.80" width="63.28" height="66.14" fill="#959698"/>
<rect x="1385.12" y="154.80" width="63.28" height="66.14" fill="#a9abab"/>
<rect x="1133.20" y="220.64" width="63.28" height="66.14" fill="#f6eb78"/>
<rect x="1196.18" y="220.64" width="63.28" height="66.14" fill="#f5ee9b"/>
<rect x="1259.16" y="220.64" width="63.28" height="66.14" fill="#f6ec80"/>
<rect x="1322.14" y="220.64" width="63.28" height="66.14" fill="#919396"/>
<rect x="1385.12" y="220.64" width="63.28" height="66.14" fill="#6d6e70"/>
<rect x="1133.20" y="286.48" width="63.28" height="66.14" fill="#f5ee9c"/>
<rect x="1196.18" y="286.48" width="63.28" height="66.14" fill="#f5efa8"/>
<rect x="1259.16" y="286.48" width="63.28" height="66.14" fill="#faf8e6"/>
<rect x="1322.14" y="286.48" width="63.28" height="66.14" fill="#aaacac"/>
<rect x="1385.12" y="286.48" width="63.28" height="66.14" fill="#a8aaaa"/>
<rect x="1133.20" y="352.32" width="63.28" height="66.14" fill="#ebebeb"/>
<rect x="1196.18" y="352.32" width="63.28" height="66.14" fill="#d8d8d8"/>
<rect x="1259.16" y="352.32" width="63.28" height="66.14" fill="#cdcfce"/>
<rect x="1322.14" y="352.32" width="63.28" height="66.14" fill="#fdfdf8"/>
<rect x="1385.12" y="352.32" width="63.28" height="66.14" fill="#f5e829"/>
<rect x="1133.20" y="418.16" width="63.28" height="66.14" fill="#c2c3c4"/>
<rect x="1196.18" y="418.16" width="63.28" height="66.14" fill="#dedede"/>
<rect x="1259.16" y="418.16" width="63.28" height="66.14" fill="#b2b4b4"/>
<rect x="1322.14" y="418.16" width="63.28" height="66.14" fill="#f1e955"/>
<rect x="1385.12" y="418.16" width="63.28" height="66.14" fill="#f5e829"/>
<line x1="1196.18" y1="154.80" x2="1196.18" y2="484.00" stroke="#000" stroke-width="1.8"/>
<line x1="1259.16" y1="154.80" x2="1259.16" y2="484.00" stroke="#000" stroke-width="1.8"/>
<line x1="1322.14" y1="154.80" x2="1322.14" y2="484.00" stroke="#000" stroke-width="1.8"/>
<line x1="1385.12" y1="154.80" x2="1385.12" y2="484.00" stroke="#000" stroke-width="1.8"/>
<line x1="1133.20" y1="220.64" x2="1448.10" y2="220.64" stroke="#000" stroke-width="1.8"/>
<line x1="1133.20" y1="286.48" x2="1448.10" y2="286.48" stroke="#000" stroke-width="1.8"/>
<line x1="1133.20" y1="352.32" x2="1448.10" y2="352.32" stroke="#000" stroke-width="1.8"/>
<line x1="1133.20" y1="418.16" x2="1448.10" y2="418.16" stroke="#000" stroke-width="1.8"/>
<rect x="1133.20" y="154.80" width="314.90" height="329.20" fill="none" stroke="#000" stroke-width="2.0"/>
<rect x="1135.10" y="156.70" width="185.44" height="194.02" fill="none" stroke="#e8262d" stroke-width="2.5"/>
<rect x="1324.04" y="354.22" width="122.36" height="128.08" fill="none" stroke="#e8262d" stroke-width="2.5"/>
<line x1="1120.00" y1="187.72" x2="1133.20" y2="187.72" stroke="#000" stroke-width="1.5"/>
<text x="1116.30" y="195.92" font-size="24.1" font-weight="bold" text-anchor="end">vFB433</text>
<line x1="1164.69" y1="142.00" x2="1164.69" y2="154.80" stroke="#000" stroke-width="1.5"/>
<text x="1169.99" y="124.60" font-size="24" font-weight="bold" transform="rotate(-45 1169.99 124.60)">vFB433</text>
<line x1="1120.00" y1="253.56" x2="1133.20" y2="253.56" stroke="#000" stroke-width="1.5"/>
<text x="1116.30" y="261.76" font-size="24.1" font-weight="bold" text-anchor="end">vFB468</text>
<line x1="1227.67" y1="142.00" x2="1227.67" y2="154.80" stroke="#000" stroke-width="1.5"/>
<text x="1232.97" y="124.60" font-size="24" font-weight="bold" transform="rotate(-45 1232.97 124.60)">vFB468</text>
<line x1="1120.00" y1="319.40" x2="1133.20" y2="319.40" stroke="#000" stroke-width="1.5"/>
<text x="1116.30" y="327.60" font-size="24.1" font-weight="bold" text-anchor="end">Phage K</text>
<line x1="1290.65" y1="142.00" x2="1290.65" y2="154.80" stroke="#000" stroke-width="1.5"/>
<text x="1295.95" y="124.60" font-size="24" font-weight="bold" transform="rotate(-45 1295.95 124.60)">Phage K</text>
<line x1="1120.00" y1="385.24" x2="1133.20" y2="385.24" stroke="#000" stroke-width="1.5"/>
<text x="1116.30" y="393.44" font-size="24.1" font-weight="bold" text-anchor="end">vFB009</text>
<line x1="1353.63" y1="142.00" x2="1353.63" y2="154.80" stroke="#000" stroke-width="1.5"/>
<text x="1358.93" y="124.60" font-size="24" font-weight="bold" transform="rotate(-45 1358.93 124.60)">vFB009</text>
<line x1="1120.00" y1="451.08" x2="1133.20" y2="451.08" stroke="#000" stroke-width="1.5"/>
<text x="1116.30" y="459.28" font-size="24.1" font-weight="bold" text-anchor="end">Romulus</text>
<line x1="1416.61" y1="142.00" x2="1416.61" y2="154.80" stroke="#000" stroke-width="1.5"/>
<text x="1421.91" y="124.60" font-size="24" font-weight="bold" transform="rotate(-45 1421.91 124.60)">Romulus</text>
<text x="986.50" y="320.00" font-size="26.2" font-weight="bold" text-anchor="middle" fill="#231f20" transform="rotate(-90 986.50 320.00)">1st Exposure</text>
<rect x="1486.60" y="154.80" width="40.40" height="329.20" fill="url(#gd)" stroke="#000" stroke-width="1.5"/>
<text x="1542.00" y="164.40" font-size="27.8">100</text>
<line x1="1486.60" y1="220.64" x2="1492.50" y2="220.64" stroke="#000" stroke-width="1.5"/>
<line x1="1521.00" y1="220.64" x2="1527.00" y2="220.64" stroke="#000" stroke-width="1.5"/>
<text x="1542.00" y="230.24" font-size="27.8">80</text>
<line x1="1486.60" y1="286.48" x2="1492.50" y2="286.48" stroke="#000" stroke-width="1.5"/>
<line x1="1521.00" y1="286.48" x2="1527.00" y2="286.48" stroke="#000" stroke-width="1.5"/>
<text x="1542.00" y="296.08" font-size="27.8">60</text>
<line x1="1486.60" y1="352.32" x2="1492.50" y2="352.32" stroke="#000" stroke-width="1.5"/>
<line x1="1521.00" y1="352.32" x2="1527.00" y2="352.32" stroke="#000" stroke-width="1.5"/>
<text x="1542.00" y="361.92" font-size="27.8">40</text>
<line x1="1486.60" y1="418.16" x2="1492.50" y2="418.16" stroke="#000" stroke-width="1.5"/>
<line x1="1521.00" y1="418.16" x2="1527.00" y2="418.16" stroke="#000" stroke-width="1.5"/>
<text x="1542.00" y="427.76" font-size="27.8">20</text>
<text x="1542.00" y="493.60" font-size="27.8">0</text>
<text x="1475.80" y="316.50" font-size="25.4" font-weight="bold" text-anchor="middle" transform="rotate(-90 1475.80 316.50)">Resistance Index (%)</text>
<text x="1634.00" y="37.50" font-size="51" font-weight="bold" fill="#231f20">e</text>
<text x="1864.30" y="31.00" font-size="26.4" font-weight="bold" text-anchor="middle" fill="#231f20">Staphylococcus Phage</text>
<text x="1864.30" y="62.50" font-size="26.4" font-weight="bold" text-anchor="middle" fill="#231f20">Complementarity Group (CG)</text>
<line x1="1895.90" y1="95.50" x2="1895.90" y2="260.60" stroke="#d2d3d3" stroke-width="3.1" stroke-dasharray="0 6.47" stroke-linecap="round"/>
<line x1="1777.80" y1="234.50" x2="2017.50" y2="234.50" stroke="#d2d3d3" stroke-width="3.1" stroke-dasharray="0 6.47" stroke-linecap="round"/>
<ellipse cx="1812" cy="199.6" rx="36.9" ry="45.2" fill="#f38371" stroke="#d6d8d9" stroke-width="3" transform="rotate(16 1812 199.6)"/>
<ellipse cx="1974.9" cy="180.4" rx="40.7" ry="80.4" fill="#74b286" stroke="#d6d8d9" stroke-width="3" transform="rotate(-11.5 1974.9 180.4)"/>
<line x1="1895.90" y1="95.50" x2="1895.90" y2="260.60" stroke="#d2d3d3" stroke-width="3.1" stroke-dasharray="0 6.47" stroke-linecap="round" opacity="0.4"/>
<line x1="1777.80" y1="234.50" x2="2017.50" y2="234.50" stroke="#d2d3d3" stroke-width="3.1" stroke-dasharray="0 6.47" stroke-linecap="round" opacity="0.4"/>
<rect x="1771.30" y="89.00" width="249.20" height="174.60" fill="none" stroke="#c9caca" stroke-width="3.2"/>
<line x1="1757.80" y1="89.00" x2="1771.30" y2="89.00" stroke="#c9caca" stroke-width="3"/>
<text x="1752.80" y="96.80" font-size="22.4" font-weight="bold" text-anchor="end">1.0</text>
<line x1="1771.30" y1="263.60" x2="1771.30" y2="277.10" stroke="#c9caca" stroke-width="3"/>
<text x="1770.50" y="302.20" font-size="22.6" font-weight="bold" text-anchor="middle" letter-spacing="-0.4">-0.6</text>
<line x1="1757.80" y1="118.10" x2="1771.30" y2="118.10" stroke="#c9caca" stroke-width="3"/>
<text x="1752.80" y="125.90" font-size="22.4" font-weight="bold" text-anchor="end">0.8</text>
<line x1="1812.83" y1="263.60" x2="1812.83" y2="277.10" stroke="#c9caca" stroke-width="3"/>
<text x="1812.03" y="302.20" font-size="22.6" font-weight="bold" text-anchor="middle" letter-spacing="-0.4">-0.4</text>
<line x1="1757.80" y1="147.20" x2="1771.30" y2="147.20" stroke="#c9caca" stroke-width="3"/>
<text x="1752.80" y="155.00" font-size="22.4" font-weight="bold" text-anchor="end">0.6</text>
<line x1="1854.37" y1="263.60" x2="1854.37" y2="277.10" stroke="#c9caca" stroke-width="3"/>
<text x="1853.57" y="302.20" font-size="22.6" font-weight="bold" text-anchor="middle" letter-spacing="-0.4">-0.2</text>
<line x1="1757.80" y1="176.30" x2="1771.30" y2="176.30" stroke="#c9caca" stroke-width="3"/>
<text x="1752.80" y="184.10" font-size="22.4" font-weight="bold" text-anchor="end">0.4</text>
<line x1="1895.90" y1="263.60" x2="1895.90" y2="277.10" stroke="#c9caca" stroke-width="3"/>
<text x="1895.90" y="302.20" font-size="22.6" font-weight="bold" text-anchor="middle" letter-spacing="-0.4">0.0</text>
<line x1="1757.80" y1="205.40" x2="1771.30" y2="205.40" stroke="#c9caca" stroke-width="3"/>
<text x="1752.80" y="213.20" font-size="22.4" font-weight="bold" text-anchor="end">0.2</text>
<line x1="1937.43" y1="263.60" x2="1937.43" y2="277.10" stroke="#c9caca" stroke-width="3"/>
<text x="1937.43" y="302.20" font-size="22.6" font-weight="bold" text-anchor="middle" letter-spacing="-0.4">0.2</text>
<line x1="1757.80" y1="234.50" x2="1771.30" y2="234.50" stroke="#c9caca" stroke-width="3"/>
<text x="1752.80" y="242.30" font-size="22.4" font-weight="bold" text-anchor="end">0.0</text>
<line x1="1978.97" y1="263.60" x2="1978.97" y2="277.10" stroke="#c9caca" stroke-width="3"/>
<text x="1978.97" y="302.20" font-size="22.6" font-weight="bold" text-anchor="middle" letter-spacing="-0.4">0.4</text>
<line x1="1757.80" y1="263.60" x2="1771.30" y2="263.60" stroke="#c9caca" stroke-width="3"/>
<text x="1752.80" y="271.40" font-size="22.4" font-weight="bold" text-anchor="end">-0.2</text>
<line x1="2020.50" y1="263.60" x2="2020.50" y2="277.10" stroke="#c9caca" stroke-width="3"/>
<text x="2020.50" y="302.20" font-size="22.6" font-weight="bold" text-anchor="middle" letter-spacing="-0.4">0.6</text>
<circle cx="1793.90" cy="179.00" r="4.40" fill="#000"/>
<text x="1782.30" y="165.60" font-size="17.5" font-weight="bold" fill="#231f20">vFB433</text>
<circle cx="1833.30" cy="193.10" r="4.40" fill="#000"/>
<text x="1820.40" y="183.90" font-size="17.5" font-weight="bold" fill="#231f20">Phage K</text>
<circle cx="1791.60" cy="224.40" r="4.40" fill="#000"/>
<text x="1782.30" y="214.50" font-size="17.5" font-weight="bold" fill="#231f20">vFB468</text>
<circle cx="1965.50" cy="113.00" r="4.40" fill="#000"/>
<text x="1937.20" y="106.50" font-size="17.5" font-weight="bold" fill="#231f20">vFB009</text>
<circle cx="1988.80" cy="250.70" r="4.40" fill="#000"/>
<text x="1950.60" y="239.70" font-size="17.5" font-weight="bold" fill="#231f20">Romulus</text>
<text x="1697.50" y="177.00" font-size="25.5" font-weight="bold" text-anchor="middle" transform="rotate(-90 1697.50 177.00)">PC2 (4.27%)</text>
<text x="1896.00" y="329.60" font-size="25.5" font-weight="bold" text-anchor="middle">PC1 (93.14%)</text>
<text x="1639.50" y="357.50" font-size="51" font-weight="bold" fill="#231f20">f</text>
<rect x="1880.10" y="353.20" width="109.30" height="29.60" fill="#f4998a"/>
<text x="1935.25" y="377.20" font-size="25.6" font-weight="bold" text-anchor="middle" fill="#231f20" letter-spacing="0.2">vFB433</text>
<rect x="1685.10" y="391.80" width="108.90" height="29.80" fill="#f4998a"/>
<text x="1740.95" y="416.00" font-size="25.6" font-weight="bold" text-anchor="middle" fill="#231f20" letter-spacing="0.2">vFB468</text>
<rect x="1685.10" y="442.90" width="108.90" height="29.80" fill="#f4998a"/>
<text x="1741.15" y="467.10" font-size="25.6" font-weight="bold" text-anchor="middle" fill="#231f20" letter-spacing="0.2">Phage K</text>
<rect x="1930.20" y="442.90" width="112.40" height="29.80" fill="#88bb96"/>
<text x="1986.90" y="467.10" font-size="25.6" font-weight="bold" text-anchor="middle" fill="#231f20" letter-spacing="0.2">Romulus</text>
<rect x="1885.10" y="502.30" width="109.50" height="30.30" fill="#88bb96"/>
<text x="1936.15" y="527.00" font-size="25.6" font-weight="bold" text-anchor="middle" fill="#231f20" letter-spacing="0.2">vFB009</text>
<path d="M1888 384.5 L1862 440.2 L1808.7 433.3 M1862 440.2 L1875.5 452.3 L1922.5 459 M1875.5 452.3 L1885.3 500.3" fill="none" stroke="#000" stroke-width="6.2" stroke-linejoin="miter"/>
<path d="M1799.4 426.2 L1808.7 433.3 L1798.4 439.3" fill="none" stroke="#000" stroke-width="5.8" stroke-linejoin="miter"/>
<line x1="1784.80" y1="510.30" x2="1832.30" y2="510.30" stroke="#000" stroke-width="4.4"/>
<text x="1807.70" y="541.00" font-size="25.5" text-anchor="middle" fill="#231f20" stroke="#231f20" stroke-width="1.25" stroke-linejoin="round">0.2</text>
<text x="-0.50" y="610.50" font-size="51" font-weight="bold" fill="#231f20">g</text>
<text x="17.20" y="648.40" font-size="30.4" font-weight="bold" fill="#231f20" letter-spacing="0.023"><tspan font-style="italic">Sa</tspan> 1203</text>
<rect x="153.20" y="594.00" width="55.00" height="53.70" fill="#6b4a93"/>
<rect x="207.90" y="594.00" width="45.40" height="53.70" fill="#f6de7a"/>
<rect x="253.00" y="594.00" width="43.10" height="53.70" fill="#efec85"/>
<rect x="297.10" y="594.00" width="43.30" height="53.70" fill="#b0dff5"/>
<rect x="340.10" y="594.00" width="44.50" height="53.70" fill="#b4d1b9"/>
<rect x="384.30" y="594.00" width="41.90" height="53.70" fill="#f9bfaa"/>
<rect x="144.50" y="678.30" width="45.17" height="51.10" fill="#6870b0"/>
<rect x="189.37" y="678.30" width="45.17" height="51.10" fill="#e88b8a"/>
<rect x="234.23" y="678.30" width="45.17" height="51.10" fill="#b5b9d8"/>
<rect x="279.10" y="678.30" width="45.17" height="51.10" fill="#e4e5f0"/>
<rect x="323.97" y="678.30" width="45.17" height="51.10" fill="#fbece9"/>
<rect x="368.83" y="678.30" width="45.17" height="51.10" fill="#ec9c9c"/>
<rect x="144.50" y="729.10" width="45.17" height="51.10" fill="#4659a7"/>
<rect x="189.37" y="729.10" width="45.17" height="51.10" fill="#d0d3e5"/>
<rect x="234.23" y="729.10" width="45.17" height="51.10" fill="#fbe9e6"/>
<rect x="279.10" y="729.10" width="45.17" height="51.10" fill="#f0b8b6"/>
<rect x="323.97" y="729.10" width="45.17" height="51.10" fill="#adb1d3"/>
<rect x="368.83" y="729.10" width="45.17" height="51.10" fill="#e87676"/>
<rect x="144.50" y="779.90" width="45.17" height="51.10" fill="#4358a6"/>
<rect x="189.37" y="779.90" width="45.17" height="51.10" fill="#5c69ad"/>
<rect x="234.23" y="779.90" width="45.17" height="51.10" fill="#6974b2"/>
<rect x="279.10" y="779.90" width="45.17" height="51.10" fill="#4358a6"/>
<rect x="323.97" y="779.90" width="45.17" height="51.10" fill="#4358a6"/>
<rect x="368.83" y="779.90" width="45.17" height="51.10" fill="#ea9091"/>
<rect x="144.50" y="830.70" width="45.17" height="51.10" fill="#b9bdda"/>
<rect x="189.37" y="830.70" width="45.17" height="51.10" fill="#c5c8e0"/>
<rect x="234.23" y="830.70" width="45.17" height="51.10" fill="#d7d9e8"/>
<rect x="279.10" y="830.70" width="45.17" height="51.10" fill="#fefaf8"/>
<rect x="323.97" y="830.70" width="45.17" height="51.10" fill="#fefefe"/>
<rect x="368.83" y="830.70" width="45.17" height="51.10" fill="#ee3a3a"/>
<rect x="144.50" y="881.50" width="45.17" height="51.10" fill="#6c78b3"/>
<rect x="189.37" y="881.50" width="45.17" height="51.10" fill="#ebebf3"/>
<rect x="234.23" y="881.50" width="45.17" height="51.10" fill="#afb3d4"/>
<rect x="279.10" y="881.50" width="45.17" height="51.10" fill="#dcdcea"/>
<rect x="323.97" y="881.50" width="45.17" height="51.10" fill="#c8cbe1"/>
<rect x="368.83" y="881.50" width="45.17" height="51.10" fill="#ee3a3a"/>
<line x1="189.37" y1="678.30" x2="189.37" y2="932.30" stroke="#000" stroke-width="1.3"/>
<line x1="234.23" y1="678.30" x2="234.23" y2="932.30" stroke="#000" stroke-width="1.3"/>
<line x1="279.10" y1="678.30" x2="279.10" y2="932.30" stroke="#000" stroke-width="1.3"/>
<line x1="323.97" y1="678.30" x2="323.97" y2="932.30" stroke="#000" stroke-width="1.3"/>
<line x1="368.83" y1="678.30" x2="368.83" y2="932.30" stroke="#000" stroke-width="1.3"/>
<line x1="144.50" y1="729.10" x2="413.70" y2="729.10" stroke="#000" stroke-width="1.3"/>
<line x1="144.50" y1="779.90" x2="413.70" y2="779.90" stroke="#000" stroke-width="1.3"/>
<line x1="144.50" y1="830.70" x2="413.70" y2="830.70" stroke="#000" stroke-width="1.3"/>
<line x1="144.50" y1="881.50" x2="413.70" y2="881.50" stroke="#000" stroke-width="1.3"/>
<rect x="144.50" y="678.30" width="269.20" height="254.00" fill="none" stroke="#000" stroke-width="2"/>
<rect x="146.70" y="680.60" width="40.10" height="249.40" fill="none" stroke="#8f2a8e" stroke-width="2.6" stroke-dasharray="4.3 4.3"/>
<rect x="192.70" y="680.60" width="82.80" height="249.40" fill="none" stroke="#f7e41f" stroke-width="2.6" stroke-dasharray="4.3 4.3"/>
<rect x="280.60" y="680.60" width="87.40" height="249.40" fill="none" stroke="#00a651" stroke-width="2.6" stroke-dasharray="4.3 4.3"/>
<rect x="371.10" y="680.60" width="39.20" height="249.40" fill="none" stroke="#e8128c" stroke-width="2.6" stroke-dasharray="4.3 4.3"/>
<line x1="166.93" y1="665.80" x2="166.93" y2="678.30" stroke="#000" stroke-width="1.5"/>
<text transform="translate(171.93 647.4) rotate(-44.5)" font-size="26" font-weight="bold" stroke="#000" stroke-width="1.1" stroke-linejoin="round">VAN</text>
<line x1="211.80" y1="665.80" x2="211.80" y2="678.30" stroke="#000" stroke-width="1.5"/>
<text transform="translate(216.80 647.4) rotate(-44.5)" font-size="26" font-weight="bold" stroke="#000" stroke-width="1.1" stroke-linejoin="round">DOX</text>
<line x1="256.67" y1="665.80" x2="256.67" y2="678.30" stroke="#000" stroke-width="1.5"/>
<text transform="translate(261.67 647.4) rotate(-44.5)" font-size="26" font-weight="bold" stroke="#000" stroke-width="1.1" stroke-linejoin="round">ERY</text>
<line x1="301.53" y1="665.80" x2="301.53" y2="678.30" stroke="#000" stroke-width="1.5"/>
<text transform="translate(306.53 647.4) rotate(-44.5)" font-size="26" font-weight="bold" stroke="#000" stroke-width="1.1" stroke-linejoin="round">AMP</text>
<line x1="346.40" y1="665.80" x2="346.40" y2="678.30" stroke="#000" stroke-width="1.5"/>
<text transform="translate(351.40 647.4) rotate(-44.5)" font-size="26" font-weight="bold" stroke="#000" stroke-width="1.1" stroke-linejoin="round">TMP</text>
<line x1="391.27" y1="665.80" x2="391.27" y2="678.30" stroke="#000" stroke-width="1.5"/>
<text transform="translate(396.27 647.4) rotate(-44.5)" font-size="26" font-weight="bold" stroke="#000" stroke-width="1.1" stroke-linejoin="round">RIF</text>
<rect x="13.10" y="678.10" width="116.90" height="149.00" fill="#f4998a"/>
<rect x="13.10" y="832.90" width="116.90" height="93.10" fill="#88bb96"/>
<line x1="131.40" y1="703.70" x2="144.50" y2="703.70" stroke="#000" stroke-width="1.5"/>
<text x="127.50" y="713.00" font-size="26.3" font-weight="bold" text-anchor="end">vFB433</text>
<line x1="131.40" y1="754.50" x2="144.50" y2="754.50" stroke="#000" stroke-width="1.5"/>
<text x="127.50" y="763.80" font-size="26.3" font-weight="bold" text-anchor="end">vFB468</text>
<line x1="131.40" y1="805.30" x2="144.50" y2="805.30" stroke="#000" stroke-width="1.5"/>
<text x="127.50" y="814.60" font-size="26.3" font-weight="bold" text-anchor="end">Phage K</text>
<line x1="131.40" y1="856.10" x2="144.50" y2="856.10" stroke="#000" stroke-width="1.5"/>
<text x="127.50" y="865.40" font-size="26.3" font-weight="bold" text-anchor="end">vFB009</text>
<line x1="131.40" y1="906.90" x2="144.50" y2="906.90" stroke="#000" stroke-width="1.5"/>
<text x="127.50" y="916.20" font-size="26.3" font-weight="bold" text-anchor="end">Romulus</text>
<rect x="463.70" y="678.30" width="40.10" height="254.00" fill="url(#gg)" stroke="#1a1a1a" stroke-width="1.7"/>
<text x="507.50" y="685.90" font-size="21.5">100</text>
<line x1="463.70" y1="710.05" x2="469.50" y2="710.05" stroke="#111" stroke-width="1.5"/>
<line x1="498.00" y1="710.05" x2="503.80" y2="710.05" stroke="#111" stroke-width="1.5"/>
<text x="507.50" y="717.65" font-size="21.5">75</text>
<line x1="463.70" y1="741.80" x2="469.50" y2="741.80" stroke="#111" stroke-width="1.5"/>
<line x1="498.00" y1="741.80" x2="503.80" y2="741.80" stroke="#111" stroke-width="1.5"/>
<text x="507.50" y="749.40" font-size="21.5">50</text>
<line x1="463.70" y1="773.55" x2="469.50" y2="773.55" stroke="#111" stroke-width="1.5"/>
<line x1="498.00" y1="773.55" x2="503.80" y2="773.55" stroke="#111" stroke-width="1.5"/>
<text x="507.50" y="781.15" font-size="21.5">25</text>
<line x1="463.70" y1="805.30" x2="469.50" y2="805.30" stroke="#111" stroke-width="1.5"/>
<line x1="498.00" y1="805.30" x2="503.80" y2="805.30" stroke="#111" stroke-width="1.5"/>
<text x="507.50" y="812.90" font-size="21.5">0</text>
<line x1="463.70" y1="837.05" x2="469.50" y2="837.05" stroke="#111" stroke-width="1.5"/>
<line x1="498.00" y1="837.05" x2="503.80" y2="837.05" stroke="#111" stroke-width="1.5"/>
<text x="507.50" y="844.65" font-size="21.5">-25</text>
<line x1="463.70" y1="868.80" x2="469.50" y2="868.80" stroke="#111" stroke-width="1.5"/>
<line x1="498.00" y1="868.80" x2="503.80" y2="868.80" stroke="#111" stroke-width="1.5"/>
<text x="507.50" y="876.40" font-size="21.5">-50</text>
<line x1="463.70" y1="900.55" x2="469.50" y2="900.55" stroke="#111" stroke-width="1.5"/>
<line x1="498.00" y1="900.55" x2="503.80" y2="900.55" stroke="#111" stroke-width="1.5"/>
<text x="507.50" y="908.15" font-size="21.5">-75</text>
<text x="507.50" y="939.90" font-size="21.5">-100</text>
<text x="491.30" y="734.80" font-size="19.9" font-weight="bold" text-anchor="middle" fill="#1c1a2a" transform="rotate(-90 491.30 734.80)" opacity="0.62">Synergism</text>
<text x="491.30" y="866.80" font-size="19.9" font-weight="bold" text-anchor="middle" fill="#2a1014" transform="rotate(-90 491.30 866.80)" opacity="0.66">Antagonism</text>
<text x="495.60" y="620.70" font-size="27" font-weight="bold" text-anchor="middle" fill="#231f20">Synergy</text>
<text x="498.50" y="651.20" font-size="27" font-weight="bold" text-anchor="middle" fill="#231f20">Score</text>
<line x1="579.30" y1="585.00" x2="579.30" y2="610.50" stroke="#c9c9c9" stroke-width="1.1"/>
<text x="576.50" y="610.80" font-size="51" font-weight="bold" fill="#231f20">h</text>
<text x="785.20" y="608.20" font-size="22" font-weight="bold" text-anchor="middle" fill="#231f20" letter-spacing="0.006">Staphylococcus</text>
<text x="785.23" y="634.50" font-size="22" font-weight="bold" text-anchor="middle" fill="#231f20" letter-spacing="0.066">Phage-dependent</text>
<text x="785.23" y="661.00" font-size="22" font-weight="bold" text-anchor="middle" fill="#231f20" letter-spacing="0.054">Antibiotic Grouping</text>
<circle cx="714.90" cy="725.40" r="14.60" fill="url(#halo)"/>
<circle cx="714.90" cy="725.40" r="10.70" fill="#fbe394"/>
<circle cx="718.10" cy="793.90" r="14.60" fill="url(#halo)"/>
<circle cx="718.10" cy="793.90" r="10.70" fill="#c3d7c7"/>
<circle cx="697.90" cy="834.00" r="14.60" fill="url(#halo)"/>
<circle cx="697.90" cy="834.00" r="10.70" fill="#c9e9f8"/>
<circle cx="772.70" cy="835.70" r="14.60" fill="url(#halo)"/>
<circle cx="772.70" cy="835.70" r="10.70" fill="#f4f0a0"/>
<circle cx="822.50" cy="846.50" r="14.60" fill="url(#halo)"/>
<circle cx="822.50" cy="846.50" r="10.70" fill="#9079b5"/>
<circle cx="828.70" cy="884.20" r="14.60" fill="url(#halo)"/>
<circle cx="828.70" cy="884.20" r="10.70" fill="#f4917f"/>
<line x1="694.70" y1="804.40" x2="871.90" y2="804.40" stroke="#d2d3d3" stroke-width="3.1" stroke-dasharray="0 6.47" stroke-linecap="round"/>
<circle cx="718.10" cy="793.90" r="14.60" fill="url(#halo)" opacity="0.85"/>
<circle cx="718.10" cy="793.90" r="10.70" fill="#c3d7c7"/>
<circle cx="714.90" cy="725.40" r="4.40" fill="#000"/>
<text x="695.60" y="707.90" font-size="17.4" font-weight="bold" fill="#231f20">DOX</text>
<circle cx="718.10" cy="793.90" r="4.40" fill="#000"/>
<text x="702.40" y="779.70" font-size="17.4" font-weight="bold" fill="#231f20">TMP</text>
<circle cx="697.90" cy="834.00" r="4.40" fill="#10252c"/>
<text x="677.00" y="820.70" font-size="17.4" font-weight="bold" fill="#231f20">AMP</text>
<circle cx="772.70" cy="835.70" r="4.40" fill="#000"/>
<text x="754.70" y="816.60" font-size="17.4" font-weight="bold" fill="#231f20">ERY</text>
<circle cx="822.50" cy="846.50" r="4.40" fill="#000"/>
<text x="806.50" y="828.50" font-size="17.4" font-weight="bold" fill="#231f20">VAN</text>
<circle cx="828.70" cy="884.20" r="4.40" fill="#000"/>
<text x="815.70" y="872.60" font-size="17.4" font-weight="bold" fill="#231f20">RIF</text>
<rect x="688.20" y="676.70" width="186.70" height="255.40" fill="none" stroke="#c9caca" stroke-width="3.2"/>
<line x1="674.70" y1="676.70" x2="688.20" y2="676.70" stroke="#c9caca" stroke-width="3.2"/>
<text x="669.60" y="685.50" font-size="26" font-weight="bold" text-anchor="end">1.0</text>
<line x1="674.70" y1="740.55" x2="688.20" y2="740.55" stroke="#c9caca" stroke-width="3.2"/>
<text x="669.60" y="749.35" font-size="26" font-weight="bold" text-anchor="end">0.5</text>
<line x1="674.70" y1="804.40" x2="688.20" y2="804.40" stroke="#c9caca" stroke-width="3.2"/>
<text x="669.60" y="813.20" font-size="26" font-weight="bold" text-anchor="end">0.0</text>
<line x1="674.70" y1="868.25" x2="688.20" y2="868.25" stroke="#c9caca" stroke-width="3.2"/>
<text x="669.60" y="877.05" font-size="26" font-weight="bold" text-anchor="end">-0.5</text>
<line x1="674.70" y1="932.10" x2="688.20" y2="932.10" stroke="#c9caca" stroke-width="3.2"/>
<text x="669.60" y="940.90" font-size="26" font-weight="bold" text-anchor="end">-1.0</text>
<line x1="688.20" y1="932.10" x2="688.20" y2="945.60" stroke="#c9caca" stroke-width="3.2"/>
<text x="695.20" y="974.50" font-size="26" font-weight="bold" text-anchor="middle">-0.6</text>
<line x1="750.43" y1="932.10" x2="750.43" y2="945.60" stroke="#c9caca" stroke-width="3.2"/>
<text x="757.43" y="974.50" font-size="26" font-weight="bold" text-anchor="middle">-0.4</text>
<line x1="812.67" y1="932.10" x2="812.67" y2="945.60" stroke="#c9caca" stroke-width="3.2"/>
<text x="819.67" y="974.50" font-size="26" font-weight="bold" text-anchor="middle">-0.2</text>
<line x1="874.90" y1="932.10" x2="874.90" y2="945.60" stroke="#c9caca" stroke-width="3.2"/>
<text x="881.90" y="974.50" font-size="26" font-weight="bold" text-anchor="middle">0.0</text>
<text x="614.50" y="811.20" font-size="25.5" font-weight="bold" text-anchor="middle" transform="rotate(-90 614.50 811.20)">PC2 (21.94%)</text>
<text x="788.50" y="1007.60" font-size="25.5" font-weight="bold" text-anchor="middle">PC1 (62.27%)</text>
<text x="907.50" y="610.40" font-size="51" font-weight="bold" fill="#231f20">i</text>
<text x="1345.10" y="607.00" font-size="26.5" font-weight="bold" text-anchor="middle" fill="#231f20">Clinical SA ID’s #</text>
<text x="983.50" y="646.70" font-size="26.5" font-weight="bold" fill="#231f20" letter-spacing="0.017">Clinical <tspan font-style="italic">Sa</tspan></text>
<rect x="1140.40" y="674.50" width="26.08" height="37.64" fill="#7b7d7f"/>
<rect x="1166.18" y="674.50" width="26.08" height="37.64" fill="#808385"/>
<rect x="1191.96" y="674.50" width="26.08" height="37.64" fill="#888a8c"/>
<rect x="1217.74" y="674.50" width="26.08" height="37.64" fill="#e6e6e6"/>
<rect x="1243.52" y="674.50" width="26.08" height="37.64" fill="#f7c393"/>
<rect x="1269.30" y="674.50" width="26.08" height="37.64" fill="#f4a14c"/>
<rect x="1295.08" y="674.50" width="26.08" height="37.64" fill="#e9e9e8"/>
<rect x="1320.86" y="674.50" width="26.08" height="37.64" fill="#7e8182"/>
<rect x="1346.64" y="674.50" width="26.08" height="37.64" fill="#f9d3ae"/>
<rect x="1372.42" y="674.50" width="26.08" height="37.64" fill="#f6bb84"/>
<rect x="1398.20" y="674.50" width="26.08" height="37.64" fill="#f5b377"/>
<rect x="1423.98" y="674.50" width="26.08" height="37.64" fill="#f5ad6a"/>
<rect x="1449.76" y="674.50" width="26.08" height="37.64" fill="#eff0f0"/>
<rect x="1475.54" y="674.50" width="26.08" height="37.64" fill="#f39230"/>
<rect x="1501.32" y="674.50" width="26.08" height="37.64" fill="#f4a04a"/>
<rect x="1140.40" y="711.84" width="26.08" height="37.64" fill="#717476"/>
<rect x="1166.18" y="711.84" width="26.08" height="37.64" fill="#f6b87c"/>
<rect x="1191.96" y="711.84" width="26.08" height="37.64" fill="#85888a"/>
<rect x="1217.74" y="711.84" width="26.08" height="37.64" fill="#f49c42"/>
<rect x="1243.52" y="711.84" width="26.08" height="37.64" fill="#f4a452"/>
<rect x="1269.30" y="711.84" width="26.08" height="37.64" fill="#fdfdfd"/>
<rect x="1295.08" y="711.84" width="26.08" height="37.64" fill="#f3963a"/>
<rect x="1320.86" y="711.84" width="26.08" height="37.64" fill="#f39534"/>
<rect x="1346.64" y="711.84" width="26.08" height="37.64" fill="#f39534"/>
<rect x="1372.42" y="711.84" width="26.08" height="37.64" fill="#f39332"/>
<rect x="1398.20" y="711.84" width="26.08" height="37.64" fill="#f8cda3"/>
<rect x="1423.98" y="711.84" width="26.08" height="37.64" fill="#f39838"/>
<rect x="1449.76" y="711.84" width="26.08" height="37.64" fill="#f39534"/>
<rect x="1475.54" y="711.84" width="26.08" height="37.64" fill="#f5ab64"/>
<rect x="1501.32" y="711.84" width="26.08" height="37.64" fill="#f5ad6a"/>
<rect x="1140.40" y="749.18" width="26.08" height="37.64" fill="#fbeddf"/>
<rect x="1166.18" y="749.18" width="26.08" height="37.64" fill="#f5b070"/>
<rect x="1191.96" y="749.18" width="26.08" height="37.64" fill="#717476"/>
<rect x="1217.74" y="749.18" width="26.08" height="37.64" fill="#f39a3e"/>
<rect x="1243.52" y="749.18" width="26.08" height="37.64" fill="#f3963a"/>
<rect x="1269.30" y="749.18" width="26.08" height="37.64" fill="#f39838"/>
<rect x="1295.08" y="749.18" width="26.08" height="37.64" fill="#f39636"/>
<rect x="1320.86" y="749.18" width="26.08" height="37.64" fill="#f39636"/>
<rect x="1346.64" y="749.18" width="26.08" height="37.64" fill="#f39534"/>
<rect x="1372.42" y="749.18" width="26.08" height="37.64" fill="#f39534"/>
<rect x="1398.20" y="749.18" width="26.08" height="37.64" fill="#f39332"/>
<rect x="1423.98" y="749.18" width="26.08" height="37.64" fill="#f39a3e"/>
<rect x="1449.76" y="749.18" width="26.08" height="37.64" fill="#f39838"/>
<rect x="1475.54" y="749.18" width="26.08" height="37.64" fill="#f39534"/>
<rect x="1501.32" y="749.18" width="26.08" height="37.64" fill="#f39534"/>
<rect x="1140.40" y="786.52" width="26.08" height="37.64" fill="#f39230"/>
<rect x="1166.18" y="786.52" width="26.08" height="37.64" fill="#f39534"/>
<rect x="1191.96" y="786.52" width="26.08" height="37.64" fill="#f39230"/>
<rect x="1217.74" y="786.52" width="26.08" height="37.64" fill="#f39534"/>
<rect x="1243.52" y="786.52" width="26.08" height="37.64" fill="#9c9d9e"/>
<rect x="1269.30" y="786.52" width="26.08" height="37.64" fill="#f39534"/>
<rect x="1295.08" y="786.52" width="26.08" height="37.64" fill="#f39230"/>
<rect x="1320.86" y="786.52" width="26.08" height="37.64" fill="#f39230"/>
<rect x="1346.64" y="786.52" width="26.08" height="37.64" fill="#f5b682"/>
<rect x="1372.42" y="786.52" width="26.08" height="37.64" fill="#b4b6b6"/>
<rect x="1398.20" y="786.52" width="26.08" height="37.64" fill="#adafaf"/>
<rect x="1423.98" y="786.52" width="26.08" height="37.64" fill="#f39534"/>
<rect x="1449.76" y="786.52" width="26.08" height="37.64" fill="#f39230"/>
<rect x="1475.54" y="786.52" width="26.08" height="37.64" fill="#f39230"/>
<rect x="1501.32" y="786.52" width="26.08" height="37.64" fill="#8d8e90"/>
<rect x="1140.40" y="823.86" width="26.08" height="37.64" fill="#f39636"/>
<rect x="1166.18" y="823.86" width="26.08" height="37.64" fill="#f39534"/>
<rect x="1191.96" y="823.86" width="26.08" height="37.64" fill="#f39230"/>
<rect x="1217.74" y="823.86" width="26.08" height="37.64" fill="#f39636"/>
<rect x="1243.52" y="823.86" width="26.08" height="37.64" fill="#f5a960"/>
<rect x="1269.30" y="823.86" width="26.08" height="37.64" fill="#f39636"/>
<rect x="1295.08" y="823.86" width="26.08" height="37.64" fill="#f39636"/>
<rect x="1320.86" y="823.86" width="26.08" height="37.64" fill="#f39636"/>
<rect x="1346.64" y="823.86" width="26.08" height="37.64" fill="#f4a14e"/>
<rect x="1372.42" y="823.86" width="26.08" height="37.64" fill="#f39636"/>
<rect x="1398.20" y="823.86" width="26.08" height="37.64" fill="#f39636"/>
<rect x="1423.98" y="823.86" width="26.08" height="37.64" fill="#f39636"/>
<rect x="1449.76" y="823.86" width="26.08" height="37.64" fill="#f39636"/>
<rect x="1475.54" y="823.86" width="26.08" height="37.64" fill="#f39230"/>
<rect x="1501.32" y="823.86" width="26.08" height="37.64" fill="#f39230"/>
<line x1="1166.18" y1="674.50" x2="1166.18" y2="861.20" stroke="#000" stroke-width="2"/>
<line x1="1191.96" y1="674.50" x2="1191.96" y2="861.20" stroke="#000" stroke-width="2"/>
<line x1="1217.74" y1="674.50" x2="1217.74" y2="861.20" stroke="#000" stroke-width="2"/>
<line x1="1243.52" y1="674.50" x2="1243.52" y2="861.20" stroke="#000" stroke-width="2"/>
<line x1="1269.30" y1="674.50" x2="1269.30" y2="861.20" stroke="#000" stroke-width="2"/>
<line x1="1295.08" y1="674.50" x2="1295.08" y2="861.20" stroke="#000" stroke-width="2"/>
<line x1="1320.86" y1="674.50" x2="1320.86" y2="861.20" stroke="#000" stroke-width="2"/>
<line x1="1346.64" y1="674.50" x2="1346.64" y2="861.20" stroke="#000" stroke-width="2"/>
<line x1="1372.42" y1="674.50" x2="1372.42" y2="861.20" stroke="#000" stroke-width="2"/>
<line x1="1398.20" y1="674.50" x2="1398.20" y2="861.20" stroke="#000" stroke-width="2"/>
<line x1="1423.98" y1="674.50" x2="1423.98" y2="861.20" stroke="#000" stroke-width="2"/>
<line x1="1449.76" y1="674.50" x2="1449.76" y2="861.20" stroke="#000" stroke-width="2"/>
<line x1="1475.54" y1="674.50" x2="1475.54" y2="861.20" stroke="#000" stroke-width="2"/>
<line x1="1501.32" y1="674.50" x2="1501.32" y2="861.20" stroke="#000" stroke-width="2"/>
<line x1="1140.40" y1="711.84" x2="1527.10" y2="711.84" stroke="#000" stroke-width="2"/>
<line x1="1140.40" y1="749.18" x2="1527.10" y2="749.18" stroke="#000" stroke-width="2"/>
<line x1="1140.40" y1="786.52" x2="1527.10" y2="786.52" stroke="#000" stroke-width="2"/>
<line x1="1140.40" y1="823.86" x2="1527.10" y2="823.86" stroke="#000" stroke-width="2"/>
<rect x="1140.40" y="674.50" width="386.70" height="186.70" fill="none" stroke="#000" stroke-width="2.3"/>
<rect x="1140.40" y="894.80" width="26.08" height="41.80" fill="#f5ae6c"/>
<rect x="1166.18" y="894.80" width="26.08" height="41.80" fill="#f6b479"/>
<rect x="1191.96" y="894.80" width="26.08" height="41.80" fill="#f6b479"/>
<rect x="1217.74" y="894.80" width="26.08" height="41.80" fill="#676a6c"/>
<rect x="1243.52" y="894.80" width="26.08" height="41.80" fill="#f4a24e"/>
<rect x="1269.30" y="894.80" width="26.08" height="41.80" fill="#7d8082"/>
<rect x="1295.08" y="894.80" width="26.08" height="41.80" fill="#f5b070"/>
<rect x="1320.86" y="894.80" width="26.08" height="41.80" fill="#676a6c"/>
<rect x="1346.64" y="894.80" width="26.08" height="41.80" fill="#f4a452"/>
<rect x="1372.42" y="894.80" width="26.08" height="41.80" fill="#f4a452"/>
<rect x="1398.20" y="894.80" width="26.08" height="41.80" fill="#f8c99c"/>
<rect x="1423.98" y="894.80" width="26.08" height="41.80" fill="#f5a960"/>
<rect x="1449.76" y="894.80" width="26.08" height="41.80" fill="#7a7d7e"/>
<rect x="1475.54" y="894.80" width="26.08" height="41.80" fill="#f5ae6c"/>
<rect x="1501.32" y="894.80" width="26.08" height="41.80" fill="#f4a558"/>
<line x1="1166.18" y1="894.80" x2="1166.18" y2="936.30" stroke="#000" stroke-width="2"/>
<line x1="1191.96" y1="894.80" x2="1191.96" y2="936.30" stroke="#000" stroke-width="2"/>
<line x1="1217.74" y1="894.80" x2="1217.74" y2="936.30" stroke="#000" stroke-width="2"/>
<line x1="1243.52" y1="894.80" x2="1243.52" y2="936.30" stroke="#000" stroke-width="2"/>
<line x1="1269.30" y1="894.80" x2="1269.30" y2="936.30" stroke="#000" stroke-width="2"/>
<line x1="1295.08" y1="894.80" x2="1295.08" y2="936.30" stroke="#000" stroke-width="2"/>
<line x1="1320.86" y1="894.80" x2="1320.86" y2="936.30" stroke="#000" stroke-width="2"/>
<line x1="1346.64" y1="894.80" x2="1346.64" y2="936.30" stroke="#000" stroke-width="2"/>
<line x1="1372.42" y1="894.80" x2="1372.42" y2="936.30" stroke="#000" stroke-width="2"/>
<line x1="1398.20" y1="894.80" x2="1398.20" y2="936.30" stroke="#000" stroke-width="2"/>
<line x1="1423.98" y1="894.80" x2="1423.98" y2="936.30" stroke="#000" stroke-width="2"/>
<line x1="1449.76" y1="894.80" x2="1449.76" y2="936.30" stroke="#000" stroke-width="2"/>
<line x1="1475.54" y1="894.80" x2="1475.54" y2="936.30" stroke="#000" stroke-width="2"/>
<line x1="1501.32" y1="894.80" x2="1501.32" y2="936.30" stroke="#000" stroke-width="2"/>
<rect x="1140.40" y="894.80" width="386.70" height="41.50" fill="none" stroke="#000" stroke-width="2.3"/>
<rect x="947.00" y="676.20" width="181.80" height="32.00" fill="#f4998a"/>
<line x1="1128.50" y1="693.17" x2="1140.40" y2="693.17" stroke="#000" stroke-width="1.6"/>
<text x="1123.40" y="701.07" font-size="24.2" font-weight="bold" text-anchor="end" stroke="#000" stroke-width="0.35" stroke-linejoin="round">vFB433</text>
<rect x="947.00" y="713.20" width="181.80" height="31.60" fill="#88bb96"/>
<line x1="1128.50" y1="730.51" x2="1140.40" y2="730.51" stroke="#000" stroke-width="1.6"/>
<text x="1123.40" y="738.41" font-size="24.2" font-weight="bold" text-anchor="end" stroke="#000" stroke-width="0.35" stroke-linejoin="round">vFB009</text>
<rect x="947.00" y="750.40" width="181.80" height="31.30" fill="url(#g_kim)"/>
<line x1="1128.50" y1="767.85" x2="1140.40" y2="767.85" stroke="#000" stroke-width="1.6"/>
<text x="1123.40" y="775.75" font-size="24.2" font-weight="bold" text-anchor="end" stroke="#000" stroke-width="0.35" stroke-linejoin="round">KIM-C4</text>
<rect x="947.00" y="787.00" width="181.80" height="31.70" fill="#9b86bb"/>
<line x1="1128.50" y1="805.19" x2="1140.40" y2="805.19" stroke="#000" stroke-width="1.6"/>
<text x="1123.40" y="813.09" font-size="24.2" font-weight="bold" text-anchor="end" stroke="#000" stroke-width="0.35" stroke-linejoin="round">VAN</text>
<rect x="946.00" y="825.00" width="181.90" height="31.70" fill="url(#g_kv)"/>
<line x1="1128.50" y1="842.53" x2="1140.40" y2="842.53" stroke="#000" stroke-width="1.6"/>
<text x="1123.40" y="850.43" font-size="24.2" font-weight="bold" text-anchor="end" stroke="#000" stroke-width="0.35" stroke-linejoin="round">KIM-C4 + VAN</text>
<rect x="946.00" y="896.00" width="181.90" height="32.00" fill="url(#g_kv)"/>
<line x1="1128.50" y1="915.55" x2="1140.40" y2="915.55" stroke="#000" stroke-width="1.6"/>
<text x="1122.30" y="921.25" font-size="24.2" font-weight="bold" text-anchor="end" stroke="#000" stroke-width="0.35" stroke-linejoin="round">KIM-C4 + VAN</text>
<line x1="1153.29" y1="663.00" x2="1153.29" y2="674.50" stroke="#000" stroke-width="1.5"/>
<text x="1157.29" y="660.30" font-size="19.6" font-weight="bold" transform="rotate(-45 1157.29 660.30)" stroke="#000" stroke-width="0.3" stroke-linejoin="round">001</text>
<line x1="1179.07" y1="663.00" x2="1179.07" y2="674.50" stroke="#000" stroke-width="1.5"/>
<text x="1183.07" y="660.30" font-size="19.6" font-weight="bold" transform="rotate(-45 1183.07 660.30)" stroke="#000" stroke-width="0.3" stroke-linejoin="round">002</text>
<line x1="1204.85" y1="663.00" x2="1204.85" y2="674.50" stroke="#000" stroke-width="1.5"/>
<text x="1208.85" y="660.30" font-size="19.6" font-weight="bold" transform="rotate(-45 1208.85 660.30)" stroke="#000" stroke-width="0.3" stroke-linejoin="round">003</text>
<line x1="1230.63" y1="663.00" x2="1230.63" y2="674.50" stroke="#000" stroke-width="1.5"/>
<text x="1234.63" y="660.30" font-size="19.6" font-weight="bold" transform="rotate(-45 1234.63 660.30)" stroke="#000" stroke-width="0.3" stroke-linejoin="round">004</text>
<line x1="1256.41" y1="663.00" x2="1256.41" y2="674.50" stroke="#000" stroke-width="1.5"/>
<text x="1260.41" y="660.30" font-size="19.6" font-weight="bold" transform="rotate(-45 1260.41 660.30)" stroke="#000" stroke-width="0.3" stroke-linejoin="round">005</text>
<line x1="1282.19" y1="663.00" x2="1282.19" y2="674.50" stroke="#000" stroke-width="1.5"/>
<text x="1286.19" y="660.30" font-size="19.6" font-weight="bold" transform="rotate(-45 1286.19 660.30)" stroke="#000" stroke-width="0.3" stroke-linejoin="round">006</text>
<line x1="1307.97" y1="663.00" x2="1307.97" y2="674.50" stroke="#000" stroke-width="1.5"/>
<text x="1311.97" y="660.30" font-size="19.6" font-weight="bold" transform="rotate(-45 1311.97 660.30)" stroke="#000" stroke-width="0.3" stroke-linejoin="round">007</text>
<line x1="1333.75" y1="663.00" x2="1333.75" y2="674.50" stroke="#000" stroke-width="1.5"/>
<text x="1337.75" y="660.30" font-size="19.6" font-weight="bold" transform="rotate(-45 1337.75 660.30)" stroke="#000" stroke-width="0.3" stroke-linejoin="round">008</text>
<line x1="1359.53" y1="663.00" x2="1359.53" y2="674.50" stroke="#000" stroke-width="1.5"/>
<text x="1363.53" y="660.30" font-size="19.6" font-weight="bold" transform="rotate(-45 1363.53 660.30)" stroke="#000" stroke-width="0.3" stroke-linejoin="round">009</text>
<line x1="1385.31" y1="663.00" x2="1385.31" y2="674.50" stroke="#000" stroke-width="1.5"/>
<text x="1389.31" y="660.30" font-size="19.6" font-weight="bold" transform="rotate(-45 1389.31 660.30)" stroke="#000" stroke-width="0.3" stroke-linejoin="round">010</text>
<line x1="1411.09" y1="663.00" x2="1411.09" y2="674.50" stroke="#000" stroke-width="1.5"/>
<text x="1415.09" y="660.30" font-size="19.6" font-weight="bold" transform="rotate(-45 1415.09 660.30)" stroke="#000" stroke-width="0.3" stroke-linejoin="round">011</text>
<line x1="1436.87" y1="663.00" x2="1436.87" y2="674.50" stroke="#000" stroke-width="1.5"/>
<text x="1440.87" y="660.30" font-size="19.6" font-weight="bold" transform="rotate(-45 1440.87 660.30)" stroke="#000" stroke-width="0.3" stroke-linejoin="round">012</text>
<line x1="1462.65" y1="663.00" x2="1462.65" y2="674.50" stroke="#000" stroke-width="1.5"/>
<text x="1466.65" y="660.30" font-size="19.6" font-weight="bold" transform="rotate(-45 1466.65 660.30)" stroke="#000" stroke-width="0.3" stroke-linejoin="round">013</text>
<line x1="1488.43" y1="663.00" x2="1488.43" y2="674.50" stroke="#000" stroke-width="1.5"/>
<text x="1492.43" y="660.30" font-size="19.6" font-weight="bold" transform="rotate(-45 1492.43 660.30)" stroke="#000" stroke-width="0.3" stroke-linejoin="round">014</text>
<line x1="1514.21" y1="663.00" x2="1514.21" y2="674.50" stroke="#000" stroke-width="1.5"/>
<text x="1518.21" y="660.30" font-size="19.6" font-weight="bold" transform="rotate(-45 1518.21 660.30)" stroke="#000" stroke-width="0.3" stroke-linejoin="round">015</text>
<rect x="931.80" y="886.80" width="597.40" height="53.40" fill="none" stroke="#7d8083" stroke-width="2.6" stroke-dasharray="4.6 4.0"/>
<text x="931.40" y="880.40" font-size="21.6" font-weight="bold" fill="#75787b">Biofilms</text>
<rect x="1564.10" y="678.80" width="23.20" height="257.60" fill="url(#g_or)" stroke="#111" stroke-width="1.6"/>
<text x="1593.20" y="686.60" font-size="21.3">100</text>
<line x1="1564.10" y1="743.20" x2="1569.50" y2="743.20" stroke="#000" stroke-width="1.5"/>
<line x1="1582.00" y1="743.20" x2="1587.30" y2="743.20" stroke="#000" stroke-width="1.5"/>
<text x="1593.20" y="750.60" font-size="21.3">75</text>
<line x1="1564.10" y1="807.60" x2="1569.50" y2="807.60" stroke="#000" stroke-width="1.5"/>
<line x1="1582.00" y1="807.60" x2="1587.30" y2="807.60" stroke="#000" stroke-width="1.5"/>
<text x="1593.20" y="818.60" font-size="21.3">50</text>
<line x1="1564.10" y1="872.00" x2="1569.50" y2="872.00" stroke="#000" stroke-width="1.5"/>
<line x1="1582.00" y1="872.00" x2="1587.30" y2="872.00" stroke="#000" stroke-width="1.5"/>
<text x="1593.20" y="879.20" font-size="21.3">25</text>
<text x="1593.20" y="945.90" font-size="21.3">0</text>
<text x="1553.40" y="804.80" font-size="25.8" font-weight="bold" text-anchor="middle" transform="rotate(-90 1553.40 804.80)">Suppression Index (%)</text>
<text x="1643.00" y="611.30" font-size="51" font-weight="bold" fill="#231f20">j</text>
<rect x="1709.30" y="611.00" width="34.20" height="18.40" fill="#a3a4a5"/>
<text x="1763.20" y="628.80" font-size="25.5" fill="#111" letter-spacing="-0.015">No Effect</text>
<rect x="1886.40" y="611.00" width="34.20" height="18.40" fill="#f48f2f"/>
<text x="1940.30" y="628.80" font-size="25.5" fill="#111" letter-spacing="-0.067">Effective</text>
<rect x="1784.30" y="680.00" width="25.60" height="255.70" fill="#a3a4a5"/>
<rect x="1784.30" y="800.44" width="25.60" height="135.26" fill="#f48f2f"/>
<text x="1788.90" y="667.50" font-size="17.4" font-weight="bold" text-anchor="middle" fill="#231f20">53%</text>
<rect x="1821.40" y="680.00" width="25.60" height="255.70" fill="#a3a4a5"/>
<rect x="1821.40" y="731.54" width="25.60" height="204.16" fill="#f48f2f"/>
<text x="1827.00" y="667.50" font-size="17.4" font-weight="bold" text-anchor="middle" fill="#231f20">80%</text>
<rect x="1858.80" y="680.00" width="25.60" height="255.70" fill="#a3a4a5"/>
<rect x="1858.80" y="713.68" width="25.60" height="222.02" fill="#f48f2f"/>
<text x="1865.70" y="667.50" font-size="17.4" font-weight="bold" text-anchor="middle" fill="#231f20">87%</text>
<rect x="1896.50" y="680.00" width="25.60" height="255.70" fill="#a3a4a5"/>
<rect x="1896.50" y="749.40" width="25.60" height="186.30" fill="#f48f2f"/>
<text x="1904.50" y="667.50" font-size="17.4" font-weight="bold" text-anchor="middle" fill="#231f20">80%</text>
<rect x="1933.60" y="680.00" width="25.60" height="255.70" fill="#a3a4a5"/>
<rect x="1933.60" y="680.50" width="25.60" height="255.20" fill="#f48f2f"/>
<text x="1948.30" y="667.50" font-size="17.4" font-weight="bold" text-anchor="middle" fill="#231f20">100%</text>
<rect x="1971.30" y="680.00" width="25.60" height="255.70" fill="#a3a4a5"/>
<rect x="1971.30" y="749.40" width="25.60" height="186.30" fill="#f48f2f"/>
<text x="1991.10" y="667.50" font-size="17.4" font-weight="bold" text-anchor="middle" fill="#231f20">73%</text>
<line x1="1772.20" y1="678.95" x2="1772.20" y2="937.25" stroke="#000" stroke-width="3.1"/>
<line x1="1770.65" y1="935.70" x2="2008.00" y2="935.70" stroke="#000" stroke-width="3.1"/>
<line x1="1758.70" y1="935.70" x2="1772.20" y2="935.70" stroke="#000" stroke-width="3.1"/>
<text x="1753.30" y="944.60" font-size="26.3" font-weight="bold" text-anchor="end">0</text>
<line x1="1758.70" y1="884.66" x2="1772.20" y2="884.66" stroke="#000" stroke-width="3.1"/>
<text x="1753.30" y="893.56" font-size="26.3" font-weight="bold" text-anchor="end">20</text>
<line x1="1758.70" y1="833.62" x2="1772.20" y2="833.62" stroke="#000" stroke-width="3.1"/>
<text x="1753.30" y="842.52" font-size="26.3" font-weight="bold" text-anchor="end">40</text>
<line x1="1758.70" y1="782.58" x2="1772.20" y2="782.58" stroke="#000" stroke-width="3.1"/>
<text x="1753.30" y="791.48" font-size="26.3" font-weight="bold" text-anchor="end">60</text>
<line x1="1758.70" y1="731.54" x2="1772.20" y2="731.54" stroke="#000" stroke-width="3.1"/>
<text x="1753.30" y="740.44" font-size="26.3" font-weight="bold" text-anchor="end">80</text>
<line x1="1758.70" y1="680.50" x2="1772.20" y2="680.50" stroke="#000" stroke-width="3.1"/>
<text x="1753.30" y="689.40" font-size="26.3" font-weight="bold" text-anchor="end">100</text>
<line x1="1797.10" y1="935.70" x2="1797.10" y2="949.20" stroke="#000" stroke-width="3.1"/>
<text x="1802.30" y="964.90" font-size="22.4" font-weight="bold" text-anchor="end" transform="rotate(-45 1802.30 964.90)">vFB433</text>
<line x1="1834.20" y1="935.70" x2="1834.20" y2="949.20" stroke="#000" stroke-width="3.1"/>
<text x="1839.40" y="964.90" font-size="22.4" font-weight="bold" text-anchor="end" transform="rotate(-45 1839.40 964.90)">vFB009</text>
<line x1="1871.60" y1="935.70" x2="1871.60" y2="949.20" stroke="#000" stroke-width="3.1"/>
<text x="1876.80" y="964.90" font-size="22.4" font-weight="bold" text-anchor="end" transform="rotate(-45 1876.80 964.90)">KIM-C4</text>
<line x1="1909.30" y1="935.70" x2="1909.30" y2="949.20" stroke="#000" stroke-width="3.1"/>
<text x="1914.50" y="964.90" font-size="22.4" font-weight="bold" text-anchor="end" transform="rotate(-45 1914.50 964.90)">VAN</text>
<line x1="1946.40" y1="935.70" x2="1946.40" y2="949.20" stroke="#000" stroke-width="3.1"/>
<text x="1951.60" y="964.90" font-size="22.4" font-weight="bold" text-anchor="end" transform="rotate(-45 1951.60 964.90)">KIM-C4 + VAN</text>
<line x1="1984.10" y1="935.70" x2="1984.10" y2="949.20" stroke="#000" stroke-width="3.1"/>
<text x="1989.30" y="964.90" font-size="22.4" font-weight="bold" text-anchor="end" transform="rotate(-45 1989.30 964.90)">KIM-C4 + VAN</text>
<rect x="1964.00" y="673.50" width="44.80" height="278.80" fill="none" stroke="#7d8083" stroke-width="2.6" stroke-dasharray="4.6 4.0"/>
<text x="2032.00" y="907.20" font-size="22" font-weight="bold" text-anchor="middle" fill="#75787b" transform="rotate(-90 2032.00 907.20)">Biofilms</text>
<text x="1663.00" y="805.80" font-size="25.2" font-weight="bold" text-anchor="middle" transform="rotate(-90 1663.00 805.80)">Ratio (%) of</text>
<text x="1694.80" y="805.80" font-size="25.2" font-weight="bold" text-anchor="middle" transform="rotate(-90 1694.80 805.80)">15 Clinical SAs</text>
<text x="-0.50" y="1133.60" font-size="51" font-weight="bold" fill="#231f20">k</text>
<text x="309.59" y="1152.50" font-size="26.2" font-weight="bold" text-anchor="middle" fill="#231f20" letter-spacing="0.183">Monoclonal</text>
<text x="598.22" y="1152.50" font-size="26.2" font-weight="bold" text-anchor="middle" fill="#231f20" letter-spacing="0.040">Polyclonal</text>
<line x1="147.30" y1="1167.30" x2="471.30" y2="1167.30" stroke="#231f20" stroke-width="4.0"/>
<line x1="474.90" y1="1167.30" x2="721.00" y2="1167.30" stroke="#231f20" stroke-width="4.0"/>
<line x1="147.30" y1="1160.20" x2="147.30" y2="1174.90" stroke="#231f20" stroke-width="2.0"/>
<line x1="471.00" y1="1160.20" x2="471.00" y2="1174.90" stroke="#231f20" stroke-width="2.0"/>
<line x1="475.20" y1="1160.20" x2="475.20" y2="1174.90" stroke="#231f20" stroke-width="2.0"/>
<line x1="721.00" y1="1160.20" x2="721.00" y2="1174.90" stroke="#231f20" stroke-width="2.0"/>
<text x="3.50" y="1226.20" font-size="29.6" font-weight="bold" fill="#231f20" font-style="italic" letter-spacing="0.592">S. aureus</text>
<text x="199.30" y="1259.60" font-size="24.2" font-weight="bold" text-anchor="middle">CSA007</text>
<text x="307.80" y="1259.60" font-size="24.2" font-weight="bold" text-anchor="middle">CSA009</text>
<text x="415.80" y="1259.60" font-size="24.2" font-weight="bold" text-anchor="middle">CSA010</text>
<text x="585.20" y="1200.70" font-size="24.2" font-weight="bold" text-anchor="end">CSA007</text>
<text x="585.20" y="1230.10" font-size="24.2" font-weight="bold" text-anchor="end">+CSA009</text>
<text x="585.20" y="1259.60" font-size="24.2" font-weight="bold" text-anchor="end">+CSA010</text>
<text x="708.60" y="1200.70" font-size="24.2" font-weight="bold" text-anchor="end">CSA007</text>
<text x="708.60" y="1230.10" font-size="24.2" font-weight="bold" text-anchor="end">+CSA009</text>
<text x="708.60" y="1259.60" font-size="24.2" font-weight="bold" text-anchor="end">+CSA010</text>
<rect x="143.80" y="1283.80" width="108.68" height="42.10" fill="#ecebe9"/>
<rect x="252.18" y="1283.80" width="108.67" height="42.10" fill="#f9d5b4"/>
<rect x="360.55" y="1283.80" width="108.68" height="42.10" fill="#f6bf8b"/>
<rect x="468.92" y="1283.80" width="108.67" height="42.10" fill="#c8caca"/>
<rect x="143.80" y="1325.60" width="108.68" height="42.10" fill="#f39838"/>
<rect x="252.18" y="1325.60" width="108.67" height="42.10" fill="#f39636"/>
<rect x="360.55" y="1325.60" width="108.68" height="42.10" fill="#f39230"/>
<rect x="468.92" y="1325.60" width="108.67" height="42.10" fill="#f39636"/>
<rect x="143.80" y="1367.40" width="108.68" height="42.10" fill="#f39a3e"/>
<rect x="252.18" y="1367.40" width="108.67" height="42.10" fill="#f39636"/>
<rect x="360.55" y="1367.40" width="108.68" height="42.10" fill="#f39636"/>
<rect x="468.92" y="1367.40" width="108.67" height="42.10" fill="#f39838"/>
<line x1="252.18" y1="1283.80" x2="252.18" y2="1409.20" stroke="#000" stroke-width="1.6"/>
<line x1="360.55" y1="1283.80" x2="360.55" y2="1409.20" stroke="#000" stroke-width="1.6"/>
<line x1="468.92" y1="1283.80" x2="468.92" y2="1409.20" stroke="#000" stroke-width="1.6"/>
<line x1="143.80" y1="1325.60" x2="577.30" y2="1325.60" stroke="#000" stroke-width="1.6"/>
<line x1="143.80" y1="1367.40" x2="577.30" y2="1367.40" stroke="#000" stroke-width="1.6"/>
<rect x="143.80" y="1283.80" width="433.50" height="125.40" fill="none" stroke="#000" stroke-width="3.2"/>
<rect x="597.90" y="1285.80" width="116.40" height="41.80" fill="#bbbdbd"/>
<rect x="597.90" y="1327.30" width="116.40" height="41.80" fill="#7f8284"/>
<rect x="597.90" y="1368.80" width="116.40" height="41.80" fill="#f39a40"/>
<line x1="597.90" y1="1327.30" x2="714.00" y2="1327.30" stroke="#000" stroke-width="1.6"/>
<line x1="597.90" y1="1368.80" x2="714.00" y2="1368.80" stroke="#000" stroke-width="1.6"/>
<rect x="597.90" y="1285.80" width="116.10" height="124.50" fill="none" stroke="#000" stroke-width="3.6"/>
<line x1="197.99" y1="1271.20" x2="197.99" y2="1283.80" stroke="#000" stroke-width="2.9"/>
<line x1="306.36" y1="1271.20" x2="306.36" y2="1283.80" stroke="#000" stroke-width="2.9"/>
<line x1="414.74" y1="1271.20" x2="414.74" y2="1283.80" stroke="#000" stroke-width="2.9"/>
<line x1="523.11" y1="1271.20" x2="523.11" y2="1283.80" stroke="#000" stroke-width="2.9"/>
<line x1="656.25" y1="1272.00" x2="656.25" y2="1285.80" stroke="#000" stroke-width="2.9"/>
<rect x="6.40" y="1288.50" width="125.50" height="31.20" fill="#f4998a"/>
<line x1="131.20" y1="1304.70" x2="143.80" y2="1304.70" stroke="#000" stroke-width="3.3"/>
<text x="126.80" y="1312.80" font-size="24.1" font-weight="bold" text-anchor="end">vFB433</text>
<rect x="6.40" y="1329.10" width="125.50" height="31.70" fill="#88bb96"/>
<line x1="131.20" y1="1346.50" x2="143.80" y2="1346.50" stroke="#000" stroke-width="3.3"/>
<text x="126.80" y="1354.60" font-size="24.1" font-weight="bold" text-anchor="end">vFB009</text>
<rect x="6.40" y="1369.60" width="125.50" height="31.20" fill="url(#g_kim2)"/>
<line x1="131.20" y1="1388.30" x2="143.80" y2="1388.30" stroke="#000" stroke-width="3.3"/>
<text x="122.60" y="1396.40" font-size="24.1" font-weight="bold" text-anchor="end">KIM-C4</text>
<rect x="590.00" y="1273.10" width="133.30" height="147.90" fill="none" stroke="#7d8083" stroke-width="2.6" stroke-dasharray="4.6 4.0"/>
<text x="589.60" y="1442.70" font-size="21.7" font-weight="bold" fill="#75787b">Biofilms</text>
<rect x="801.80" y="1285.40" width="32.50" height="124.40" fill="url(#g_or2)" stroke="#111" stroke-width="1.7"/>
<text x="838.70" y="1293.10" font-size="20.5">100</text>
<line x1="801.80" y1="1316.50" x2="808.00" y2="1316.50" stroke="#000" stroke-width="1.6"/>
<line x1="828.00" y1="1316.50" x2="834.30" y2="1316.50" stroke="#000" stroke-width="1.6"/>
<text x="838.70" y="1323.40" font-size="20.5">75</text>
<line x1="801.80" y1="1347.60" x2="808.00" y2="1347.60" stroke="#000" stroke-width="1.6"/>
<line x1="828.00" y1="1347.60" x2="834.30" y2="1347.60" stroke="#000" stroke-width="1.6"/>
<text x="838.70" y="1354.60" font-size="20.5">50</text>
<line x1="801.80" y1="1378.70" x2="808.00" y2="1378.70" stroke="#000" stroke-width="1.6"/>
<line x1="828.00" y1="1378.70" x2="834.30" y2="1378.70" stroke="#000" stroke-width="1.6"/>
<text x="838.70" y="1388.30" font-size="20.5">25</text>
<text x="838.70" y="1418.50" font-size="20.5">0</text>
<text x="755.80" y="1346.80" font-size="25.6" font-weight="bold" text-anchor="middle" transform="rotate(-90 755.80 1346.80)">Suppression</text>
<text x="786.50" y="1342.60" font-size="25.6" font-weight="bold" text-anchor="middle" transform="rotate(-90 786.50 1342.60)">Index (%)</text>
<text x="907.60" y="1134.00" font-size="51" font-weight="bold" fill="#231f20">l</text>
<text x="1374.60" y="1136.50" font-size="26.5" font-weight="bold" text-anchor="middle" fill="#231f20" letter-spacing="-0.003">Phage Treatment</text>
<rect x="1028.10" y="1155.30" width="205.80" height="25.40" fill="#f1c1d8"/>
<text x="1130.00" y="1175.10" font-size="24" font-weight="bold" text-anchor="middle" stroke="#000" stroke-width="0.3" stroke-linejoin="round"><tspan font-style="italic">Pa</tspan> Mocktail</text>
<rect x="1028.10" y="1184.20" width="205.80" height="25.40" fill="#f4998a"/>
<text x="1130.00" y="1205.60" font-size="24" font-weight="bold" text-anchor="middle" stroke="#000" stroke-width="0.3" stroke-linejoin="round"><tspan font-style="italic">Sa</tspan> Mocktail</text>
<rect x="1028.10" y="1212.70" width="205.80" height="25.10" fill="url(#g_pac)"/>
<text x="1130.00" y="1234.80" font-size="24" font-weight="bold" text-anchor="middle" stroke="#000" stroke-width="0.3" stroke-linejoin="round"><tspan font-style="italic">Pa</tspan> Cocktail</text>
<rect x="1028.10" y="1241.00" width="205.80" height="25.70" fill="url(#g_sac)"/>
<text x="1130.00" y="1262.50" font-size="24" font-weight="bold" text-anchor="middle" stroke="#000" stroke-width="0.3" stroke-linejoin="round"><tspan font-style="italic">Sa</tspan> Cocktail</text>
<line x1="1011.30" y1="1213.20" x2="1035.80" y2="1193.20" stroke="#e4e4e4" stroke-width="2.2" stroke-linecap="round"/>
<line x1="1284.20" y1="1167.50" x2="1300.00" y2="1167.50" stroke="#231f20" stroke-width="3.7"/>
<line x1="1292.10" y1="1159.60" x2="1292.10" y2="1175.40" stroke="#231f20" stroke-width="3.7"/>
<line x1="1335.20" y1="1166.50" x2="1352.40" y2="1166.50" stroke="#231f20" stroke-width="2.8"/>
<line x1="1388.50" y1="1166.50" x2="1405.70" y2="1166.50" stroke="#231f20" stroke-width="2.8"/>
<line x1="1442.10" y1="1166.50" x2="1459.30" y2="1166.50" stroke="#231f20" stroke-width="2.8"/>
<line x1="1283.50" y1="1198.40" x2="1300.70" y2="1198.40" stroke="#231f20" stroke-width="2.8"/>
<line x1="1335.90" y1="1200.30" x2="1351.70" y2="1200.30" stroke="#231f20" stroke-width="3.7"/>
<line x1="1343.80" y1="1192.40" x2="1343.80" y2="1208.20" stroke="#231f20" stroke-width="3.7"/>
<line x1="1388.50" y1="1198.40" x2="1405.70" y2="1198.40" stroke="#231f20" stroke-width="2.8"/>
<line x1="1442.10" y1="1198.40" x2="1459.30" y2="1198.40" stroke="#231f20" stroke-width="2.8"/>
<line x1="1283.50" y1="1229.60" x2="1300.70" y2="1229.60" stroke="#231f20" stroke-width="2.8"/>
<line x1="1335.20" y1="1229.60" x2="1352.40" y2="1229.60" stroke="#231f20" stroke-width="2.8"/>
<line x1="1389.20" y1="1228.00" x2="1405.00" y2="1228.00" stroke="#231f20" stroke-width="3.7"/>
<line x1="1397.10" y1="1220.10" x2="1397.10" y2="1235.90" stroke="#231f20" stroke-width="3.7"/>
<line x1="1442.10" y1="1229.60" x2="1459.30" y2="1229.60" stroke="#231f20" stroke-width="2.8"/>
<line x1="1283.50" y1="1259.60" x2="1300.70" y2="1259.60" stroke="#231f20" stroke-width="2.8"/>
<line x1="1335.20" y1="1259.60" x2="1352.40" y2="1259.60" stroke="#231f20" stroke-width="2.8"/>
<line x1="1388.50" y1="1259.60" x2="1405.70" y2="1259.60" stroke="#231f20" stroke-width="2.8"/>
<line x1="1442.80" y1="1257.80" x2="1458.60" y2="1257.80" stroke="#231f20" stroke-width="3.7"/>
<line x1="1450.70" y1="1249.90" x2="1450.70" y2="1265.70" stroke="#231f20" stroke-width="3.7"/>
<rect x="1266.00" y="1316.80" width="52.95" height="47.00" fill="#c7c9c9"/>
<rect x="1318.65" y="1316.80" width="52.95" height="47.00" fill="#a4a6a7"/>
<rect x="1371.30" y="1316.80" width="52.95" height="47.00" fill="#939597"/>
<rect x="1423.95" y="1316.80" width="52.95" height="47.00" fill="#f39634"/>
<rect x="1266.00" y="1363.50" width="52.95" height="47.00" fill="#777879"/>
<rect x="1318.65" y="1363.50" width="52.95" height="47.00" fill="#8d8f90"/>
<rect x="1371.30" y="1363.50" width="52.95" height="47.00" fill="#f39634"/>
<rect x="1423.95" y="1363.50" width="52.95" height="47.00" fill="#98999b"/>
<line x1="1318.65" y1="1316.80" x2="1318.65" y2="1410.20" stroke="#000" stroke-width="1.6"/>
<line x1="1371.30" y1="1316.80" x2="1371.30" y2="1410.20" stroke="#000" stroke-width="1.6"/>
<line x1="1423.95" y1="1316.80" x2="1423.95" y2="1410.20" stroke="#000" stroke-width="1.6"/>
<line x1="1266.00" y1="1363.50" x2="1476.60" y2="1363.50" stroke="#000" stroke-width="1.6"/>
<rect x="1266.00" y="1316.80" width="210.60" height="93.40" fill="none" stroke="#000" stroke-width="3.4"/>
<line x1="1292.33" y1="1303.90" x2="1292.33" y2="1316.80" stroke="#000" stroke-width="3"/>
<line x1="1344.97" y1="1303.90" x2="1344.97" y2="1316.80" stroke="#000" stroke-width="3"/>
<line x1="1397.62" y1="1303.90" x2="1397.62" y2="1316.80" stroke="#000" stroke-width="3"/>
<line x1="1450.27" y1="1303.90" x2="1450.27" y2="1316.80" stroke="#000" stroke-width="3"/>
<line x1="1253.00" y1="1340.15" x2="1266.00" y2="1340.15" stroke="#000" stroke-width="3.2"/>
<text x="1247.71" y="1349.15" font-size="24" font-weight="bold" text-anchor="end" letter-spacing="0.114">Polyclonal <tspan font-style="italic">S. aureus</tspan> (<tspan font-style="italic">Sa</tspan>)</text>
<line x1="1253.00" y1="1386.85" x2="1266.00" y2="1386.85" stroke="#000" stroke-width="3.2"/>
<text x="1247.69" y="1394.85" font-size="24" font-weight="bold" text-anchor="end" letter-spacing="0.089">Polyclonal <tspan font-style="italic">P. aeruginosa</tspan> (<tspan font-style="italic">Pa</tspan>)</text>
<text x="1551.50" y="1134.60" font-size="51" font-weight="bold" fill="#231f20">m</text>
<text x="1924.80" y="1136.10" font-size="26.5" font-weight="bold" text-anchor="middle" fill="#231f20" letter-spacing="-0.003">Phage Treatment</text>
<rect x="1589.00" y="1155.40" width="204.70" height="25.00" fill="#f1c1d8"/>
<text x="1690.50" y="1175.00" font-size="24" font-weight="bold" text-anchor="middle" stroke="#000" stroke-width="0.3" stroke-linejoin="round"><tspan font-style="italic">Pa</tspan> Mocktail</text>
<rect x="1589.00" y="1183.80" width="204.70" height="24.90" fill="#f4998a"/>
<text x="1690.50" y="1204.90" font-size="24" font-weight="bold" text-anchor="middle" stroke="#000" stroke-width="0.3" stroke-linejoin="round"><tspan font-style="italic">Sa</tspan> Mocktail</text>
<rect x="1589.00" y="1212.60" width="204.70" height="25.00" fill="url(#g_pac)"/>
<text x="1690.50" y="1234.60" font-size="24" font-weight="bold" text-anchor="middle" stroke="#000" stroke-width="0.3" stroke-linejoin="round"><tspan font-style="italic">Pa</tspan> Cocktail</text>
<rect x="1589.00" y="1240.90" width="204.70" height="25.00" fill="url(#g_sac)"/>
<text x="1690.50" y="1261.90" font-size="24" font-weight="bold" text-anchor="middle" stroke="#000" stroke-width="0.3" stroke-linejoin="round"><tspan font-style="italic">Sa</tspan> Cocktail</text>
<line x1="1834.10" y1="1166.00" x2="1849.90" y2="1166.00" stroke="#231f20" stroke-width="3.7"/>
<line x1="1842.00" y1="1158.10" x2="1842.00" y2="1173.90" stroke="#231f20" stroke-width="3.7"/>
<line x1="1885.10" y1="1166.00" x2="1900.90" y2="1166.00" stroke="#231f20" stroke-width="3.7"/>
<line x1="1893.00" y1="1158.10" x2="1893.00" y2="1173.90" stroke="#231f20" stroke-width="3.7"/>
<line x1="1938.30" y1="1166.00" x2="1955.50" y2="1166.00" stroke="#231f20" stroke-width="2.8"/>
<line x1="1991.10" y1="1166.00" x2="2008.30" y2="1166.00" stroke="#231f20" stroke-width="2.8"/>
<line x1="1834.10" y1="1199.10" x2="1849.90" y2="1199.10" stroke="#231f20" stroke-width="3.7"/>
<line x1="1842.00" y1="1191.20" x2="1842.00" y2="1207.00" stroke="#231f20" stroke-width="3.7"/>
<line x1="1884.40" y1="1197.50" x2="1901.60" y2="1197.50" stroke="#231f20" stroke-width="2.8"/>
<line x1="1939.00" y1="1199.10" x2="1954.80" y2="1199.10" stroke="#231f20" stroke-width="3.7"/>
<line x1="1946.90" y1="1191.20" x2="1946.90" y2="1207.00" stroke="#231f20" stroke-width="3.7"/>
<line x1="1991.10" y1="1197.50" x2="2008.30" y2="1197.50" stroke="#231f20" stroke-width="2.8"/>
<line x1="1833.40" y1="1229.20" x2="1850.60" y2="1229.20" stroke="#231f20" stroke-width="2.8"/>
<line x1="1884.40" y1="1229.20" x2="1901.60" y2="1229.20" stroke="#231f20" stroke-width="2.8"/>
<line x1="1939.00" y1="1228.00" x2="1954.80" y2="1228.00" stroke="#231f20" stroke-width="3.7"/>
<line x1="1946.90" y1="1220.10" x2="1946.90" y2="1235.90" stroke="#231f20" stroke-width="3.7"/>
<line x1="1991.80" y1="1228.00" x2="2007.60" y2="1228.00" stroke="#231f20" stroke-width="3.7"/>
<line x1="1999.70" y1="1220.10" x2="1999.70" y2="1235.90" stroke="#231f20" stroke-width="3.7"/>
<line x1="1833.40" y1="1259.30" x2="1850.60" y2="1259.30" stroke="#231f20" stroke-width="2.8"/>
<line x1="1885.10" y1="1257.80" x2="1900.90" y2="1257.80" stroke="#231f20" stroke-width="3.7"/>
<line x1="1893.00" y1="1249.90" x2="1893.00" y2="1265.70" stroke="#231f20" stroke-width="3.7"/>
<line x1="1938.30" y1="1259.30" x2="1955.50" y2="1259.30" stroke="#231f20" stroke-width="2.8"/>
<line x1="1991.80" y1="1257.80" x2="2007.60" y2="1257.80" stroke="#231f20" stroke-width="3.7"/>
<line x1="1999.70" y1="1249.90" x2="1999.70" y2="1265.70" stroke="#231f20" stroke-width="3.7"/>
<rect x="1815.00" y="1291.70" width="53.17" height="46.10" fill="#9a9c9d"/>
<rect x="1867.88" y="1291.70" width="53.17" height="46.10" fill="#faf7f0"/>
<rect x="1920.75" y="1291.70" width="53.17" height="46.10" fill="#f5b682"/>
<rect x="1973.62" y="1291.70" width="53.17" height="46.10" fill="#f39d45"/>
<line x1="1867.88" y1="1291.70" x2="1867.88" y2="1337.50" stroke="#231f20" stroke-width="1.6"/>
<line x1="1920.75" y1="1291.70" x2="1920.75" y2="1337.50" stroke="#231f20" stroke-width="1.6"/>
<line x1="1973.62" y1="1291.70" x2="1973.62" y2="1337.50" stroke="#231f20" stroke-width="1.6"/>
<rect x="1815.00" y="1291.70" width="211.50" height="45.80" fill="none" stroke="#231f20" stroke-width="4.5"/>
<rect x="1815.00" y="1365.70" width="53.17" height="45.80" fill="#a2a3a4"/>
<rect x="1867.88" y="1365.70" width="53.17" height="45.80" fill="#e4e4e4"/>
<rect x="1920.75" y="1365.70" width="53.17" height="45.80" fill="#dfdfdf"/>
<rect x="1973.62" y="1365.70" width="53.17" height="45.80" fill="#f4a65a"/>
<line x1="1867.88" y1="1365.70" x2="1867.88" y2="1411.20" stroke="#231f20" stroke-width="1.6"/>
<line x1="1920.75" y1="1365.70" x2="1920.75" y2="1411.20" stroke="#231f20" stroke-width="1.6"/>
<line x1="1973.62" y1="1365.70" x2="1973.62" y2="1411.20" stroke="#231f20" stroke-width="1.6"/>
<rect x="1815.00" y="1365.70" width="211.50" height="45.50" fill="none" stroke="#231f20" stroke-width="4.5"/>
<line x1="1841.44" y1="1278.00" x2="1841.44" y2="1290.00" stroke="#231f20" stroke-width="3"/>
<line x1="1894.31" y1="1278.00" x2="1894.31" y2="1290.00" stroke="#231f20" stroke-width="3"/>
<line x1="1947.19" y1="1278.00" x2="1947.19" y2="1290.00" stroke="#231f20" stroke-width="3"/>
<line x1="2000.06" y1="1278.00" x2="2000.06" y2="1290.00" stroke="#231f20" stroke-width="3"/>
<line x1="1801.50" y1="1314.60" x2="1813.00" y2="1314.60" stroke="#231f20" stroke-width="3.3"/>
<text x="1796.94" y="1322.20" font-size="24" font-weight="bold" text-anchor="end" letter-spacing="0.144">Polymicrobial <tspan font-style="italic">Sa</tspan> + <tspan font-style="italic">Pa</tspan></text>
<line x1="1801.50" y1="1388.45" x2="1813.00" y2="1388.45" stroke="#231f20" stroke-width="3.3"/>
<text x="1796.94" y="1396.05" font-size="24" font-weight="bold" text-anchor="end" letter-spacing="0.144">Polymicrobial <tspan font-style="italic">Sa</tspan> + <tspan font-style="italic">Pa</tspan></text>
<rect x="1808.90" y="1359.40" width="225.50" height="57.90" fill="none" stroke="#7d8083" stroke-width="2.6" stroke-dasharray="4.6 4.0"/>
<text x="1810.30" y="1443.60" font-size="21.7" font-weight="bold" fill="#75787b">Biofilms</text>
</svg>
</body>
</html>
